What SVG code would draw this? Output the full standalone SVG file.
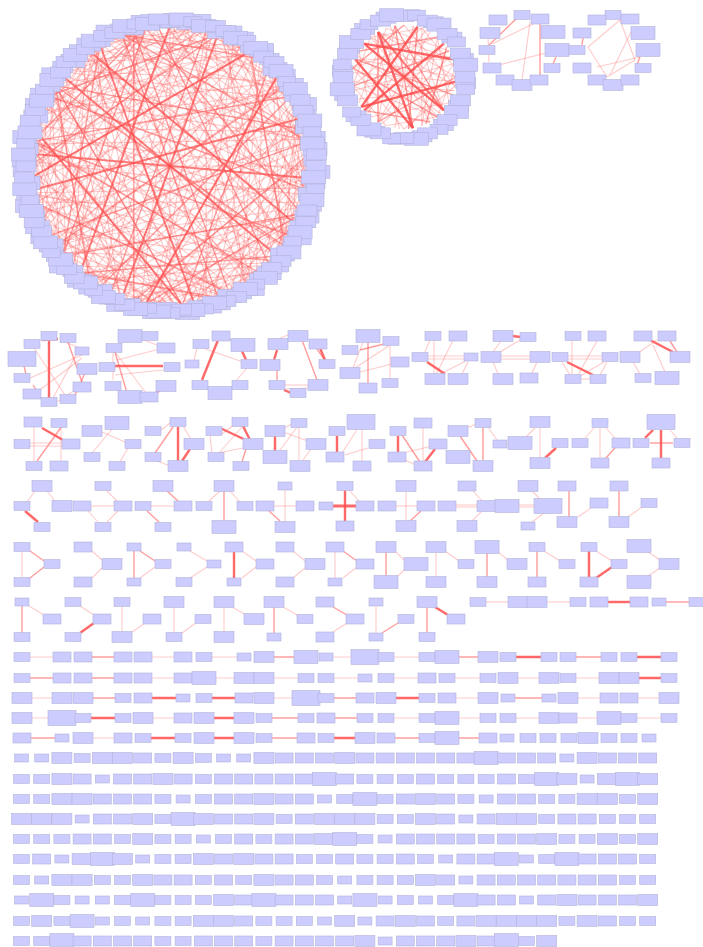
<svg xmlns="http://www.w3.org/2000/svg" xmlns:xlink="http://www.w3.org/1999/xlink" width="703" height="947" viewBox="0 0 703 947">
<style>
.n{fill:#ccccff;stroke:#b3b3d9;stroke-width:.6}
.e1{stroke:#ff5c5c;stroke-opacity:.32;stroke-width:1.1;fill:none}
.e2{stroke:#ff5c5c;stroke-opacity:.6;stroke-width:1.4;fill:none}
.e3{stroke:#ff4d4d;stroke-opacity:.85;stroke-width:2.4;fill:none}
.e4{stroke:#ff4d4d;stroke-opacity:.72;stroke-width:2;fill:none}
</style>
<defs>
<rect id="s" class="n" x="-7" y="-4" width="14" height="8"/>
<rect id="m" class="n" x="-8" y="-4.5" width="16" height="9"/>
<rect id="p" class="n" x="-9" y="-5" width="18" height="10"/>
<rect id="l" class="n" x="-10" y="-5.5" width="20" height="11"/>
<rect id="x" class="n" x="-12" y="-6.5" width="24" height="13"/>
<rect id="w" class="n" x="-14" y="-7.5" width="28" height="15"/>
<line id="a15" x1="135.2" y1="-36.2" x2="135.2" y2="36.2"/>
<line id="a20" x1="131.6" y1="-47.9" x2="131.6" y2="47.9"/>
<line id="a25" x1="126.9" y1="-59.2" x2="126.9" y2="59.2"/>
<line id="a30" x1="121.2" y1="-70" x2="121.2" y2="70"/>
<line id="a35" x1="114.7" y1="-80.3" x2="114.7" y2="80.3"/>
<line id="a40" x1="107.2" y1="-90" x2="107.2" y2="90"/>
<line id="a45" x1="99" y1="-99" x2="99" y2="99"/>
<line id="a50" x1="90" y1="-107.2" x2="90" y2="107.2"/>
<line id="a55" x1="80.3" y1="-114.7" x2="80.3" y2="114.7"/>
<line id="a60" x1="70" y1="-121.2" x2="70" y2="121.2"/>
<line id="a65" x1="59.2" y1="-126.9" x2="59.2" y2="126.9"/>
<line id="a70" x1="47.9" y1="-131.6" x2="47.9" y2="131.6"/>
<line id="a75" x1="36.2" y1="-135.2" x2="36.2" y2="135.2"/>
<line id="a80" x1="24.3" y1="-137.9" x2="24.3" y2="137.9"/>
<line id="a85" x1="12.2" y1="-139.5" x2="12.2" y2="139.5"/>
<line id="a90" x1="0" y1="-140" x2="0" y2="140"/>
<line id="b30" x1="45" y1="-26" x2="45" y2="26"/>
<line id="b40" x1="39.8" y1="-33.4" x2="39.8" y2="33.4"/>
<line id="b50" x1="33.4" y1="-39.8" x2="33.4" y2="39.8"/>
<line id="b60" x1="26" y1="-45" x2="26" y2="45"/>
<line id="b70" x1="17.8" y1="-48.9" x2="17.8" y2="48.9"/>
<line id="b80" x1="9" y1="-51.2" x2="9" y2="51.2"/>
<line id="b90" x1="0" y1="-52" x2="0" y2="52"/>
</defs>
<rect width="703" height="947" fill="#ffffff"/>
<g id="connectors">
<g transform="translate(170 166)">
<use href="#a15" class="e1" transform="rotate(10)"/><use href="#a15" class="e1" transform="rotate(55)"/><use href="#a15" class="e1" transform="rotate(100)"/><use href="#a15" class="e1" transform="rotate(150)"/><use href="#a15" class="e1" transform="rotate(200)"/><use href="#a15" class="e1" transform="rotate(245)"/><use href="#a15" class="e1" transform="rotate(290)"/><use href="#a15" class="e1" transform="rotate(335)"/>
<use href="#a20" class="e1" transform="rotate(25)"/><use href="#a20" class="e1" transform="rotate(70)"/><use href="#a20" class="e1" transform="rotate(118)"/><use href="#a20" class="e1" transform="rotate(170)"/><use href="#a20" class="e1" transform="rotate(215)"/><use href="#a20" class="e1" transform="rotate(260)"/><use href="#a20" class="e1" transform="rotate(305)"/><use href="#a20" class="e1" transform="rotate(350)"/>
<use href="#a25" class="e1" transform="rotate(5)"/><use href="#a25" class="e1" transform="rotate(48)"/><use href="#a25" class="e1" transform="rotate(95)"/><use href="#a25" class="e1" transform="rotate(140)"/><use href="#a25" class="e1" transform="rotate(185)"/><use href="#a25" class="e1" transform="rotate(232)"/><use href="#a25" class="e1" transform="rotate(278)"/><use href="#a25" class="e1" transform="rotate(322)"/>
<use href="#a30" class="e1" transform="rotate(33)"/><use href="#a30" class="e1" transform="rotate(78)"/><use href="#a30" class="e1" transform="rotate(125)"/><use href="#a30" class="e1" transform="rotate(160)"/><use href="#a30" class="e1" transform="rotate(208)"/><use href="#a30" class="e1" transform="rotate(252)"/><use href="#a30" class="e1" transform="rotate(298)"/><use href="#a30" class="e1" transform="rotate(343)"/>
<use href="#a35" class="e1" transform="rotate(15)"/><use href="#a35" class="e1" transform="rotate(62)"/><use href="#a35" class="e1" transform="rotate(108)"/><use href="#a35" class="e1" transform="rotate(155)"/><use href="#a35" class="e1" transform="rotate(198)"/><use href="#a35" class="e1" transform="rotate(240)"/><use href="#a35" class="e1" transform="rotate(285)"/><use href="#a35" class="e1" transform="rotate(330)"/>
<use href="#a40" class="e1" transform="rotate(40)"/><use href="#a40" class="e1" transform="rotate(85)"/><use href="#a40" class="e1" transform="rotate(130)"/><use href="#a40" class="e1" transform="rotate(178)"/><use href="#a40" class="e1" transform="rotate(222)"/><use href="#a40" class="e1" transform="rotate(268)"/><use href="#a40" class="e1" transform="rotate(312)"/><use href="#a40" class="e1" transform="rotate(357)"/>
<use href="#a45" class="e1" transform="rotate(20)"/><use href="#a45" class="e1" transform="rotate(66)"/><use href="#a45" class="e1" transform="rotate(112)"/><use href="#a45" class="e1" transform="rotate(146)"/><use href="#a45" class="e1" transform="rotate(192)"/><use href="#a45" class="e1" transform="rotate(238)"/><use href="#a45" class="e1" transform="rotate(282)"/><use href="#a45" class="e1" transform="rotate(326)"/>
<use href="#a50" class="e1" transform="rotate(2)"/><use href="#a50" class="e1" transform="rotate(46)"/><use href="#a50" class="e1" transform="rotate(92)"/><use href="#a50" class="e1" transform="rotate(137)"/><use href="#a50" class="e1" transform="rotate(183)"/><use href="#a50" class="e1" transform="rotate(228)"/><use href="#a50" class="e1" transform="rotate(273)"/><use href="#a50" class="e1" transform="rotate(318)"/>
<use href="#a55" class="e1" transform="rotate(28)"/><use href="#a55" class="e1" transform="rotate(74)"/><use href="#a55" class="e1" transform="rotate(121)"/><use href="#a55" class="e1" transform="rotate(166)"/><use href="#a55" class="e1" transform="rotate(210)"/><use href="#a55" class="e1" transform="rotate(256)"/><use href="#a55" class="e1" transform="rotate(300)"/><use href="#a55" class="e1" transform="rotate(347)"/>
<use href="#a60" class="e1" transform="rotate(12)"/><use href="#a60" class="e1" transform="rotate(58)"/><use href="#a60" class="e1" transform="rotate(103)"/><use href="#a60" class="e1" transform="rotate(148)"/><use href="#a60" class="e1" transform="rotate(194)"/><use href="#a60" class="e1" transform="rotate(244)"/><use href="#a60" class="e1" transform="rotate(286)"/><use href="#a60" class="e1" transform="rotate(331)"/>
<use href="#a65" class="e1" transform="rotate(37)"/><use href="#a65" class="e1" transform="rotate(82)"/><use href="#a65" class="e1" transform="rotate(127)"/><use href="#a65" class="e1" transform="rotate(173)"/><use href="#a65" class="e1" transform="rotate(218)"/><use href="#a65" class="e1" transform="rotate(263)"/><use href="#a65" class="e1" transform="rotate(308)"/><use href="#a65" class="e1" transform="rotate(353)"/>
<use href="#a70" class="e1" transform="rotate(7)"/><use href="#a70" class="e1" transform="rotate(52)"/><use href="#a70" class="e1" transform="rotate(98)"/><use href="#a70" class="e1" transform="rotate(143)"/><use href="#a70" class="e1" transform="rotate(188)"/><use href="#a70" class="e1" transform="rotate(234)"/><use href="#a70" class="e1" transform="rotate(279)"/><use href="#a70" class="e1" transform="rotate(324)"/>
<use href="#a75" class="e1" transform="rotate(22)"/><use href="#a75" class="e1" transform="rotate(67)"/><use href="#a75" class="e1" transform="rotate(113)"/><use href="#a75" class="e1" transform="rotate(158)"/><use href="#a75" class="e1" transform="rotate(203)"/><use href="#a75" class="e1" transform="rotate(249)"/><use href="#a75" class="e1" transform="rotate(294)"/><use href="#a75" class="e1" transform="rotate(339)"/>
<use href="#a80" class="e1" transform="rotate(44)"/><use href="#a80" class="e1" transform="rotate(89)"/><use href="#a80" class="e1" transform="rotate(134)"/><use href="#a80" class="e1" transform="rotate(224)"/><use href="#a80" class="e1" transform="rotate(269)"/><use href="#a80" class="e1" transform="rotate(314)"/>
<use href="#a85" class="e1" transform="rotate(30)"/><use href="#a85" class="e1" transform="rotate(75)"/><use href="#a85" class="e1" transform="rotate(120)"/><use href="#a85" class="e1" transform="rotate(165)"/>
<use href="#a90" class="e1" transform="rotate(0)"/><use href="#a90" class="e1" transform="rotate(36)"/><use href="#a90" class="e1" transform="rotate(72)"/><use href="#a90" class="e1" transform="rotate(108)"/><use href="#a90" class="e1" transform="rotate(144)"/>
<use href="#a25" class="e1" transform="rotate(27)"/><use href="#a25" class="e1" transform="rotate(72)"/><use href="#a25" class="e1" transform="rotate(117)"/><use href="#a25" class="e1" transform="rotate(163)"/><use href="#a25" class="e1" transform="rotate(208)"/><use href="#a25" class="e1" transform="rotate(255)"/><use href="#a25" class="e1" transform="rotate(300)"/><use href="#a25" class="e1" transform="rotate(345)"/>
<use href="#a30" class="e1" transform="rotate(10)"/><use href="#a30" class="e1" transform="rotate(55)"/><use href="#a30" class="e1" transform="rotate(102)"/><use href="#a30" class="e1" transform="rotate(183)"/><use href="#a30" class="e1" transform="rotate(230)"/><use href="#a30" class="e1" transform="rotate(275)"/><use href="#a30" class="e1" transform="rotate(320)"/><use href="#a30" class="e1" transform="rotate(5)"/>
<use href="#a35" class="e1" transform="rotate(38)"/><use href="#a35" class="e1" transform="rotate(85)"/><use href="#a35" class="e1" transform="rotate(131)"/><use href="#a35" class="e1" transform="rotate(177)"/><use href="#a35" class="e1" transform="rotate(221)"/><use href="#a35" class="e1" transform="rotate(263)"/><use href="#a35" class="e1" transform="rotate(308)"/><use href="#a35" class="e1" transform="rotate(353)"/>
<use href="#a40" class="e1" transform="rotate(18)"/><use href="#a40" class="e1" transform="rotate(63)"/><use href="#a40" class="e1" transform="rotate(108)"/><use href="#a40" class="e1" transform="rotate(155)"/><use href="#a40" class="e1" transform="rotate(200)"/><use href="#a40" class="e1" transform="rotate(245)"/><use href="#a40" class="e1" transform="rotate(290)"/><use href="#a40" class="e1" transform="rotate(335)"/>
<use href="#a45" class="e1" transform="rotate(43)"/><use href="#a45" class="e1" transform="rotate(89)"/><use href="#a45" class="e1" transform="rotate(135)"/><use href="#a45" class="e1" transform="rotate(169)"/><use href="#a45" class="e1" transform="rotate(215)"/><use href="#a45" class="e1" transform="rotate(261)"/><use href="#a45" class="e1" transform="rotate(305)"/><use href="#a45" class="e1" transform="rotate(349)"/>
<use href="#a50" class="e1" transform="rotate(25)"/><use href="#a50" class="e1" transform="rotate(69)"/><use href="#a50" class="e1" transform="rotate(114)"/><use href="#a50" class="e1" transform="rotate(160)"/><use href="#a50" class="e1" transform="rotate(206)"/><use href="#a50" class="e1" transform="rotate(251)"/><use href="#a50" class="e1" transform="rotate(296)"/><use href="#a50" class="e1" transform="rotate(341)"/>
<use href="#a55" class="e1" transform="rotate(5)"/><use href="#a55" class="e1" transform="rotate(51)"/><use href="#a55" class="e1" transform="rotate(98)"/><use href="#a55" class="e1" transform="rotate(143)"/><use href="#a55" class="e1" transform="rotate(187)"/><use href="#a55" class="e1" transform="rotate(233)"/><use href="#a55" class="e1" transform="rotate(277)"/><use href="#a55" class="e1" transform="rotate(324)"/>
<use href="#a60" class="e1" transform="rotate(35)"/><use href="#a60" class="e1" transform="rotate(81)"/><use href="#a60" class="e1" transform="rotate(126)"/><use href="#a60" class="e1" transform="rotate(171)"/><use href="#a60" class="e1" transform="rotate(217)"/><use href="#a60" class="e1" transform="rotate(263)"/><use href="#a60" class="e1" transform="rotate(309)"/><use href="#a60" class="e1" transform="rotate(354)"/>
<use href="#a65" class="e1" transform="rotate(14)"/><use href="#a65" class="e1" transform="rotate(59)"/><use href="#a65" class="e1" transform="rotate(104)"/><use href="#a65" class="e1" transform="rotate(150)"/><use href="#a65" class="e1" transform="rotate(195)"/><use href="#a65" class="e1" transform="rotate(240)"/><use href="#a65" class="e1" transform="rotate(285)"/><use href="#a65" class="e1" transform="rotate(330)"/>
<use href="#a70" class="e1" transform="rotate(30)"/><use href="#a70" class="e1" transform="rotate(75)"/><use href="#a70" class="e1" transform="rotate(121)"/><use href="#a70" class="e1" transform="rotate(166)"/><use href="#a70" class="e1" transform="rotate(211)"/><use href="#a70" class="e1" transform="rotate(257)"/><use href="#a70" class="e1" transform="rotate(302)"/><use href="#a70" class="e1" transform="rotate(347)"/>
<use href="#a75" class="e1" transform="rotate(0)"/><use href="#a75" class="e1" transform="rotate(90)"/><use href="#a75" class="e1" transform="rotate(135)"/><use href="#a75" class="e1" transform="rotate(226)"/><use href="#a75" class="e1" transform="rotate(271)"/><use href="#a75" class="e1" transform="rotate(316)"/>
<use href="#a80" class="e1" transform="rotate(20)"/><use href="#a80" class="e1" transform="rotate(65)"/><use href="#a80" class="e1" transform="rotate(157)"/><use href="#a80" class="e1" transform="rotate(200)"/><use href="#a80" class="e1" transform="rotate(245)"/><use href="#a80" class="e1" transform="rotate(337)"/>
<use href="#a85" class="e1" transform="rotate(52)"/><use href="#a85" class="e1" transform="rotate(97)"/><use href="#a85" class="e1" transform="rotate(142)"/><use href="#a85" class="e1" transform="rotate(187)"/><use href="#a85" class="e1" transform="rotate(232)"/><use href="#a85" class="e1" transform="rotate(277)"/><use href="#a85" class="e1" transform="rotate(322)"/><use href="#a85" class="e1" transform="rotate(10)"/>
<use href="#a90" class="e1" transform="rotate(18)"/><use href="#a90" class="e1" transform="rotate(54)"/><use href="#a90" class="e1" transform="rotate(90)"/><use href="#a90" class="e1" transform="rotate(126)"/><use href="#a90" class="e1" transform="rotate(162)"/>
<use href="#a30" class="e2" transform="rotate(100)"/><use href="#a30" class="e2" transform="rotate(280)"/><use href="#a40" class="e2" transform="rotate(60)"/><use href="#a40" class="e2" transform="rotate(250)"/><use href="#a45" class="e2" transform="rotate(170)"/><use href="#a45" class="e2" transform="rotate(350)"/><use href="#a50" class="e2" transform="rotate(115)"/><use href="#a50" class="e2" transform="rotate(300)"/><use href="#a55" class="e2" transform="rotate(50)"/><use href="#a55" class="e2" transform="rotate(235)"/><use href="#a60" class="e2" transform="rotate(80)"/><use href="#a60" class="e2" transform="rotate(200)"/><use href="#a60" class="e2" transform="rotate(320)"/><use href="#a65" class="e2" transform="rotate(150)"/><use href="#a65" class="e2" transform="rotate(20)"/><use href="#a70" class="e2" transform="rotate(120)"/><use href="#a70" class="e2" transform="rotate(260)"/><use href="#a75" class="e2" transform="rotate(180)"/><use href="#a75" class="e2" transform="rotate(45)"/><use href="#a80" class="e2" transform="rotate(110)"/><use href="#a80" class="e2" transform="rotate(290)"/><use href="#a85" class="e2" transform="rotate(200)"/><use href="#a85" class="e2" transform="rotate(340)"/><use href="#a90" class="e2" transform="rotate(55)"/><use href="#a90" class="e2" transform="rotate(125)"/><use href="#a90" class="e2" transform="rotate(160)"/><use href="#a35" class="e2" transform="rotate(225)"/><use href="#a45" class="e2" transform="rotate(85)"/><use href="#a50" class="e2" transform="rotate(190)"/><use href="#a65" class="e2" transform="rotate(280)"/><use href="#a70" class="e2" transform="rotate(335)"/><use href="#a80" class="e2" transform="rotate(70)"/>
<use href="#a55" class="e4" transform="rotate(140)"/><use href="#a65" class="e4" transform="rotate(240)"/><use href="#a70" class="e4" transform="rotate(30)"/><use href="#a70" class="e4" transform="rotate(200)"/><use href="#a75" class="e4" transform="rotate(310)"/><use href="#a80" class="e4" transform="rotate(160)"/><use href="#a85" class="e4" transform="rotate(255)"/><use href="#a90" class="e4" transform="rotate(20)"/><use href="#a90" class="e4" transform="rotate(95)"/><use href="#a90" class="e4" transform="rotate(130)"/>
</g>
<g transform="translate(404 77)">
<use href="#b30" class="e1" transform="rotate(20)"/><use href="#b30" class="e1" transform="rotate(140)"/><use href="#b30" class="e1" transform="rotate(260)"/><use href="#b40" class="e1" transform="rotate(50)"/><use href="#b40" class="e1" transform="rotate(170)"/><use href="#b40" class="e1" transform="rotate(290)"/><use href="#b40" class="e1" transform="rotate(350)"/><use href="#b50" class="e1" transform="rotate(80)"/><use href="#b50" class="e1" transform="rotate(200)"/><use href="#b50" class="e1" transform="rotate(320)"/><use href="#b60" class="e1" transform="rotate(10)"/><use href="#b60" class="e1" transform="rotate(110)"/><use href="#b60" class="e1" transform="rotate(230)"/><use href="#b60" class="e1" transform="rotate(300)"/><use href="#b70" class="e1" transform="rotate(45)"/><use href="#b70" class="e1" transform="rotate(165)"/><use href="#b70" class="e1" transform="rotate(270)"/><use href="#b80" class="e1" transform="rotate(95)"/><use href="#b80" class="e1" transform="rotate(215)"/><use href="#b80" class="e1" transform="rotate(335)"/><use href="#b90" class="e1" transform="rotate(30)"/><use href="#b90" class="e1" transform="rotate(75)"/><use href="#b90" class="e1" transform="rotate(150)"/>
<use href="#b30" class="e1" transform="rotate(80)"/><use href="#b30" class="e1" transform="rotate(200)"/><use href="#b30" class="e1" transform="rotate(320)"/><use href="#b50" class="e1" transform="rotate(140)"/><use href="#b50" class="e1" transform="rotate(35)"/><use href="#b50" class="e1" transform="rotate(290)"/><use href="#b60" class="e1" transform="rotate(200)"/><use href="#b60" class="e1" transform="rotate(250)"/><use href="#b60" class="e1" transform="rotate(340)"/><use href="#b70" class="e1" transform="rotate(0)"/><use href="#b70" class="e1" transform="rotate(85)"/><use href="#b70" class="e1" transform="rotate(190)"/><use href="#b70" class="e1" transform="rotate(300)"/><use href="#b80" class="e1" transform="rotate(40)"/><use href="#b80" class="e1" transform="rotate(125)"/><use href="#b80" class="e1" transform="rotate(280)"/><use href="#b90" class="e1" transform="rotate(10)"/><use href="#b90" class="e1" transform="rotate(95)"/><use href="#b90" class="e1" transform="rotate(140)"/>
<use href="#b40" class="e2" transform="rotate(100)"/><use href="#b40" class="e2" transform="rotate(230)"/><use href="#b50" class="e2" transform="rotate(15)"/><use href="#b50" class="e2" transform="rotate(260)"/><use href="#b60" class="e2" transform="rotate(60)"/><use href="#b60" class="e2" transform="rotate(180)"/><use href="#b70" class="e2" transform="rotate(120)"/><use href="#b70" class="e2" transform="rotate(330)"/><use href="#b80" class="e2" transform="rotate(5)"/><use href="#b80" class="e2" transform="rotate(250)"/><use href="#b90" class="e2" transform="rotate(110)"/><use href="#b90" class="e2" transform="rotate(170)"/>
<use href="#b60" class="e3" transform="rotate(140)"/><use href="#b60" class="e3" transform="rotate(280)"/><use href="#b70" class="e3" transform="rotate(215)"/><use href="#b80" class="e3" transform="rotate(160)"/><use href="#b90" class="e3" transform="rotate(50)"/><use href="#b90" class="e3" transform="rotate(130)"/><use href="#b70" class="e3" transform="rotate(75)"/><use href="#b80" class="e4" transform="rotate(320)"/>
</g>
<line class="e2" x1="489" y1="45" x2="518" y2="17"/><line class="e1" x1="492" y1="44" x2="537" y2="22"/><line class="e2" x1="540" y1="24" x2="540" y2="76"/><line class="e1" x1="530" y1="22" x2="522" y2="80"/><line class="e1" x1="495" y1="66" x2="550" y2="52"/><line class="e1" x1="488" y1="38" x2="489" y2="62"/><line class="e2" x1="556" y1="57" x2="553" y2="64"/>
<line class="e1" x1="588" y1="47" x2="620" y2="20"/><line class="e1" x1="620" y1="20" x2="635" y2="60"/><line class="e1" x1="635" y1="60" x2="607" y2="77"/><line class="e1" x1="588" y1="47" x2="607" y2="77"/><line class="e1" x1="610" y1="75" x2="632" y2="30"/><line class="e2" x1="583" y1="38" x2="582" y2="45"/><line class="e2" x1="640" y1="57" x2="637" y2="65"/><line class="e1" x1="597" y1="67" x2="640" y2="57"/>
<line class="e3" x1="49" y1="340" x2="49" y2="398"/><line class="e3" x1="42" y1="340" x2="58" y2="339"/><line class="e1" x1="82" y1="355" x2="30" y2="378"/><line class="e1" x1="77" y1="353" x2="53" y2="398"/><line class="e2" x1="68" y1="342" x2="83" y2="385"/><line class="e1" x1="33" y1="395" x2="82" y2="358"/><line class="e2" x1="24" y1="366" x2="26" y2="374"/><line class="e1" x1="32" y1="345" x2="67" y2="398"/><line class="e2" x1="33" y1="385" x2="38" y2="393"/><line class="e1" x1="55" y1="403" x2="75" y2="390"/><line class="e2" x1="85" y1="373" x2="75" y2="395"/><line class="e1" x1="60" y1="340" x2="85" y2="350"/>
<line class="e3" x1="115" y1="366" x2="163" y2="366"/><line class="e2" x1="115" y1="352" x2="127" y2="393"/><line class="e1" x1="115" y1="352" x2="146" y2="393"/><line class="e1" x1="117" y1="360" x2="160" y2="349"/><line class="e1" x1="138" y1="338" x2="157" y2="345"/><line class="e3" x1="155" y1="394" x2="161" y2="389"/><line class="e1" x1="115" y1="375" x2="163" y2="370"/><line class="e1" x1="113" y1="352" x2="113" y2="380"/>
<line class="e3" x1="218" y1="340" x2="202" y2="380"/><line class="e1" x1="197" y1="348" x2="194" y2="360"/><line class="e3" x1="242" y1="351" x2="246" y2="360"/><line class="e1" x1="247" y1="368" x2="235" y2="382"/><line class="e1" x1="227" y1="338" x2="240" y2="345"/><line class="e1" x1="203" y1="348" x2="243" y2="362"/>
<line class="e3" x1="277" y1="350" x2="274" y2="360"/><line class="e1" x1="276" y1="340" x2="290" y2="334"/><line class="e2" x1="277" y1="370" x2="277" y2="380"/><line class="e2" x1="302" y1="340" x2="317" y2="380"/><line class="e3" x1="320" y1="348" x2="325" y2="360"/><line class="e2" x1="317" y1="349" x2="324" y2="359"/><line class="e1" x1="285" y1="385" x2="310" y2="385"/><line class="e1" x1="285" y1="389" x2="310" y2="388"/><line class="e3" x1="284" y1="390" x2="291" y2="393"/>
<line class="e2" x1="368" y1="342" x2="368" y2="383"/><line class="e2" x1="360" y1="350" x2="388" y2="343"/><line class="e1" x1="353" y1="368" x2="363" y2="342"/><line class="e1" x1="355" y1="368" x2="390" y2="345"/><line class="e1" x1="360" y1="372" x2="392" y2="364"/><line class="e1" x1="390" y1="346" x2="390" y2="378"/>
<line class="e1" x1="434" y1="340" x2="434" y2="375"/><line class="e3" x1="427" y1="362" x2="445" y2="374"/><line class="e1" x1="428" y1="356" x2="465" y2="356"/><line class="e1" x1="428" y1="359" x2="465" y2="359"/><line class="e1" x1="453" y1="340" x2="436" y2="375"/><line class="e1" x1="468" y1="362" x2="462" y2="374"/><line class="e1" x1="425" y1="352" x2="430" y2="340"/><line class="e1" x1="440" y1="374" x2="466" y2="361"/>
<line class="e3" x1="513" y1="336" x2="520" y2="337"/><line class="e1" x1="493" y1="352" x2="501" y2="341"/><line class="e1" x1="500" y1="352" x2="520" y2="340"/><line class="e1" x1="501" y1="356" x2="530" y2="356"/><line class="e1" x1="501" y1="359" x2="530" y2="359"/><line class="e1" x1="493" y1="362" x2="498" y2="374"/><line class="e1" x1="537" y1="362" x2="532" y2="373"/>
<line class="e1" x1="572" y1="340" x2="572" y2="375"/><line class="e1" x1="568" y1="356" x2="602" y2="356"/><line class="e1" x1="568" y1="359" x2="602" y2="359"/><line class="e1" x1="597" y1="341" x2="578" y2="375"/><line class="e3" x1="567" y1="362" x2="593" y2="375"/><line class="e1" x1="562" y1="362" x2="570" y2="375"/><line class="e1" x1="607" y1="362" x2="600" y2="375"/><line class="e1" x1="580" y1="379" x2="591" y2="379"/><line class="e1" x1="604" y1="362" x2="580" y2="376"/>
<line class="e3" x1="650" y1="340" x2="673" y2="352"/><line class="e1" x1="638" y1="353" x2="657" y2="340"/><line class="e2" x1="670" y1="341" x2="677" y2="352"/><line class="e1" x1="633" y1="362" x2="640" y2="374"/><line class="e1" x1="653" y1="345" x2="665" y2="372"/>
<line class="e1" x1="34" y1="427" x2="34" y2="461"/><line class="e1" x1="61" y1="427" x2="61" y2="461"/><line class="e1" x1="28" y1="443" x2="62" y2="443"/><line class="e1" x1="28" y1="446" x2="62" y2="446"/><line class="e3" x1="42" y1="428" x2="63" y2="440"/><line class="e2" x1="62" y1="426" x2="37" y2="461"/>
<line class="e1" x1="113" y1="428" x2="92" y2="453"/><line class="e1" x1="102" y1="432" x2="125" y2="442"/><line class="e1" x1="128" y1="448" x2="120" y2="462"/>
<line class="e3" x1="178" y1="427" x2="178" y2="461"/><line class="e2" x1="173" y1="427" x2="155" y2="453"/><line class="e1" x1="161" y1="430" x2="170" y2="423"/><line class="e1" x1="183" y1="426" x2="191" y2="439"/><line class="e3" x1="190" y1="449" x2="182" y2="461"/><line class="e1" x1="157" y1="461" x2="170" y2="466"/>
<line class="e3" x1="220" y1="428" x2="248" y2="441"/><line class="e3" x1="243" y1="426" x2="250" y2="440"/><line class="e1" x1="218" y1="453" x2="248" y2="447"/><line class="e1" x1="219" y1="453" x2="242" y2="427"/><line class="e2" x1="246" y1="449" x2="242" y2="462"/><line class="e1" x1="222" y1="434" x2="240" y2="420"/><line class="e1" x1="210" y1="435" x2="212" y2="453"/>
<line class="e3" x1="275" y1="436" x2="275" y2="452"/><line class="e1" x1="278" y1="453" x2="297" y2="427"/><line class="e1" x1="285" y1="428" x2="295" y2="422"/><line class="e1" x1="299" y1="427" x2="299" y2="460"/><line class="e1" x1="311" y1="449" x2="303" y2="460"/><line class="e1" x1="283" y1="432" x2="308" y2="441"/>
<line class="e3" x1="337" y1="436" x2="337" y2="453"/><line class="e1" x1="342" y1="453" x2="358" y2="428"/><line class="e1" x1="345" y1="455" x2="368" y2="448"/><line class="e1" x1="362" y1="429" x2="362" y2="462"/>
<line class="e3" x1="398" y1="436" x2="398" y2="452"/><line class="e2" x1="402" y1="435" x2="420" y2="462"/><line class="e3" x1="425" y1="462" x2="435" y2="449"/><line class="e1" x1="423" y1="427" x2="423" y2="461"/><line class="e1" x1="403" y1="453" x2="432" y2="446"/><line class="e1" x1="405" y1="460" x2="416" y2="465"/>
<line class="e2" x1="460" y1="436" x2="477" y2="461"/><line class="e2" x1="483" y1="427" x2="483" y2="460"/><line class="e1" x1="488" y1="427" x2="497" y2="440"/><line class="e1" x1="465" y1="429" x2="476" y2="424"/>
<line class="e1" x1="535" y1="428" x2="525" y2="438"/><line class="e1" x1="540" y1="428" x2="540" y2="458"/><line class="e3" x1="556" y1="448" x2="545" y2="458"/>
<line class="e1" x1="595" y1="427" x2="585" y2="438"/><line class="e1" x1="600" y1="428" x2="600" y2="459"/><line class="e1" x1="605" y1="427" x2="615" y2="438"/><line class="e2" x1="615" y1="448" x2="605" y2="459"/>
<line class="e3" x1="653" y1="430" x2="645" y2="438"/><line class="e3" x1="661" y1="430" x2="661" y2="459"/><line class="e2" x1="650" y1="443" x2="673" y2="443"/><line class="e1" x1="670" y1="430" x2="677" y2="438"/>
<line class="e1" x1="27" y1="502" x2="35" y2="491"/><line class="e1" x1="47" y1="491" x2="55" y2="501"/><line class="e3" x1="25" y1="511" x2="38" y2="522"/>
<line class="e1" x1="107" y1="491" x2="117" y2="501"/><line class="e1" x1="91" y1="506" x2="114" y2="506"/><line class="e1" x1="88" y1="511" x2="98" y2="522"/><line class="e1" x1="118" y1="511" x2="107" y2="522"/>
<line class="e2" x1="167" y1="491" x2="178" y2="501"/><line class="e1" x1="151" y1="506" x2="174" y2="506"/><line class="e2" x1="147" y1="511" x2="159" y2="522"/>
<line class="e1" x1="220" y1="491" x2="209" y2="501"/><line class="e2" x1="224" y1="491" x2="224" y2="520"/><line class="e1" x1="230" y1="491" x2="240" y2="502"/>
<line class="e1" x1="285" y1="490" x2="285" y2="522"/><line class="e1" x1="274" y1="506" x2="296" y2="506"/><line class="e2" x1="269" y1="511" x2="280" y2="521"/>
<line class="e3" x1="333" y1="506" x2="356" y2="506" style="stroke-width:3"/><line class="e3" x1="345" y1="490" x2="345" y2="521"/><line class="e1" x1="349" y1="490" x2="359" y2="501"/>
<line class="e1" x1="406" y1="491" x2="406" y2="521"/><line class="e1" x1="396" y1="506" x2="417" y2="506"/><line class="e2" x1="421" y1="511" x2="410" y2="521"/>
<line class="e1" x1="473" y1="491" x2="482" y2="501"/><line class="e1" x1="456" y1="505" x2="477" y2="505"/><line class="e1" x1="456" y1="507" x2="477" y2="507"/><line class="e1" x1="482" y1="511" x2="472" y2="521"/>
<line class="e1" x1="532" y1="491" x2="540" y2="499"/><line class="e1" x1="519" y1="505" x2="534" y2="505"/><line class="e1" x1="519" y1="507" x2="534" y2="507"/><line class="e1" x1="544" y1="513" x2="532" y2="522"/>
<line class="e2" x1="569" y1="490" x2="569" y2="517"/><line class="e1" x1="578" y1="517" x2="591" y2="508"/>
<line class="e2" x1="619" y1="490" x2="619" y2="517"/><line class="e1" x1="628" y1="517" x2="642" y2="507"/>
<line class="e1" x1="22" y1="551" x2="22" y2="577"/><line class="e2" x1="30" y1="551" x2="44" y2="561"/><line class="e2" x1="30" y1="578" x2="44" y2="567"/>
<line class="e1" x1="92" y1="551" x2="102" y2="560"/><line class="e1" x1="92" y1="578" x2="102" y2="568"/>
<line class="e2" x1="134" y1="551" x2="134" y2="578"/><line class="e2" x1="140" y1="551" x2="155" y2="561"/><line class="e1" x1="140" y1="578" x2="155" y2="567"/>
<line class="e1" x1="190" y1="551" x2="207" y2="561"/><line class="e1" x1="190" y1="578" x2="207" y2="567"/>
<line class="e3" x1="234" y1="551" x2="234" y2="578"/><line class="e1" x1="242" y1="551" x2="256" y2="561"/><line class="e1" x1="242" y1="578" x2="256" y2="567"/>
<line class="e1" x1="293" y1="551" x2="305" y2="561"/><line class="e1" x1="293" y1="578" x2="305" y2="568"/>
<line class="e1" x1="335" y1="551" x2="335" y2="578"/><line class="e2" x1="343" y1="551" x2="357" y2="561"/><line class="e1" x1="343" y1="578" x2="357" y2="567"/>
<line class="e2" x1="386" y1="552" x2="386" y2="576"/><line class="e1" x1="395" y1="551" x2="405" y2="561"/><line class="e1" x1="397" y1="577" x2="405" y2="569"/>
<line class="e1" x1="436" y1="552" x2="436" y2="577"/><line class="e1" x1="445" y1="551" x2="459" y2="561"/>
<line class="e2" x1="487" y1="553" x2="487" y2="577"/><line class="e1" x1="498" y1="552" x2="508" y2="560"/>
<line class="e2" x1="537" y1="551" x2="537" y2="577"/><line class="e1" x1="544" y1="551" x2="560" y2="561"/>
<line class="e3" x1="589" y1="551" x2="589" y2="577"/><line class="e1" x1="596" y1="551" x2="612" y2="561"/><line class="e3" x1="596" y1="578" x2="612" y2="567"/>
<line class="e1" x1="648" y1="552" x2="660" y2="560"/><line class="e1" x1="648" y1="576" x2="660" y2="568"/>
<line class="e2" x1="22" y1="606" x2="22" y2="633"/><line class="e1" x1="29" y1="606" x2="44" y2="615"/>
<line class="e1" x1="80" y1="606" x2="94" y2="615"/><line class="e3" x1="80" y1="633" x2="94" y2="623"/>
<line class="e1" x1="122" y1="606" x2="122" y2="632"/><line class="e1" x1="131" y1="633" x2="145" y2="623"/>
<line class="e1" x1="174" y1="607" x2="174" y2="633"/><line class="e1" x1="182" y1="633" x2="196" y2="623"/>
<line class="e1" x1="224" y1="607" x2="224" y2="632"/><line class="e1" x1="232" y1="607" x2="246" y2="615"/>
<line class="e2" x1="274" y1="607" x2="274" y2="633"/><line class="e1" x1="283" y1="607" x2="297" y2="615"/>
<line class="e2" x1="333" y1="607" x2="347" y2="615"/><line class="e1" x1="333" y1="632" x2="347" y2="623"/>
<line class="e1" x1="376" y1="606" x2="376" y2="633"/><line class="e2" x1="382" y1="633" x2="398" y2="623"/>
<line class="e2" x1="427" y1="607" x2="427" y2="633"/><line class="e3" x1="435" y1="607" x2="448" y2="615"/>
<line class="e1" x1="486" y1="602" x2="508" y2="602"/><line class="e1" x1="547" y1="602" x2="570" y2="602"/><line class="e3" x1="608" y1="602" x2="630" y2="602"/><line class="e2" x1="666" y1="602" x2="689" y2="602"/>
<line class="e1" x1="22" y1="657" x2="62" y2="657"/><line class="e2" x1="83" y1="657" x2="123" y2="657"/><line class="e1" x1="143" y1="657" x2="183" y2="657"/><line class="e1" x1="204" y1="657" x2="244" y2="657"/><line class="e2" x1="264" y1="657" x2="306" y2="657"/><line class="e1" x1="326" y1="657" x2="365" y2="657"/><line class="e1" x1="386" y1="657" x2="427" y2="657"/><line class="e2" x1="447" y1="657" x2="488" y2="657"/><line class="e3" x1="508" y1="657" x2="549" y2="657"/><line class="e2" x1="568" y1="657" x2="609" y2="657"/><line class="e3" x1="629" y1="657" x2="669" y2="657"/>
<line class="e2" x1="22" y1="678" x2="62" y2="678"/><line class="e2" x1="83" y1="678" x2="123" y2="678"/><line class="e1" x1="143" y1="678" x2="183" y2="678"/><line class="e1" x1="204" y1="678" x2="244" y2="678"/><line class="e1" x1="264" y1="678" x2="306" y2="678"/><line class="e1" x1="326" y1="678" x2="365" y2="678"/><line class="e1" x1="386" y1="678" x2="427" y2="678"/><line class="e1" x1="447" y1="678" x2="488" y2="678"/><line class="e1" x1="508" y1="678" x2="549" y2="678"/><line class="e1" x1="568" y1="678" x2="609" y2="678"/><line class="e3" x1="629" y1="678" x2="669" y2="678"/>
<line class="e1" x1="22" y1="698" x2="62" y2="698"/><line class="e2" x1="83" y1="698" x2="123" y2="698"/><line class="e3" x1="143" y1="698" x2="183" y2="698"/><line class="e3" x1="204" y1="698" x2="244" y2="698"/><line class="e1" x1="264" y1="698" x2="306" y2="698"/><line class="e2" x1="326" y1="698" x2="365" y2="698"/><line class="e3" x1="386" y1="698" x2="427" y2="698"/><line class="e1" x1="447" y1="698" x2="488" y2="698"/><line class="e2" x1="508" y1="698" x2="549" y2="698"/><line class="e1" x1="568" y1="698" x2="609" y2="698"/><line class="e1" x1="629" y1="698" x2="669" y2="698"/>
<line class="e1" x1="22" y1="718" x2="62" y2="718"/><line class="e3" x1="83" y1="718" x2="123" y2="718"/><line class="e1" x1="143" y1="718" x2="183" y2="718"/><line class="e3" x1="204" y1="718" x2="244" y2="718"/><line class="e2" x1="264" y1="718" x2="306" y2="718"/><line class="e2" x1="326" y1="718" x2="365" y2="718"/><line class="e1" x1="386" y1="718" x2="427" y2="718"/><line class="e1" x1="447" y1="718" x2="488" y2="718"/><line class="e1" x1="508" y1="718" x2="549" y2="718"/><line class="e1" x1="568" y1="718" x2="609" y2="718"/><line class="e1" x1="629" y1="718" x2="669" y2="718"/>
<line class="e2" x1="22" y1="738" x2="62" y2="738"/><line class="e1" x1="83" y1="738" x2="123" y2="738"/><line class="e3" x1="143" y1="738" x2="183" y2="738"/><line class="e3" x1="204" y1="738" x2="244" y2="738"/><line class="e2" x1="264" y1="738" x2="306" y2="738"/><line class="e3" x1="326" y1="738" x2="365" y2="738"/><line class="e2" x1="386" y1="738" x2="427" y2="738"/><line class="e2" x1="447" y1="738" x2="488" y2="738"/>
</g>
<g id="nodes">
<g id="ring1" transform="translate(170 166)">
<g id="A80" transform="rotate(2.25) translate(0 -146) rotate(-2.25)"><use href="#x"/></g>
<g id="A81" transform="rotate(6.75) translate(0 -143) rotate(-6.75)"><use href="#l"/></g>
<g id="A82" transform="rotate(11.25) translate(0 -148) rotate(-11.25)"><use href="#x"/></g>
<g id="A83" transform="rotate(15.75) translate(0 -146) rotate(-15.75)"><use href="#p"/></g>
<g id="A84" transform="rotate(20.25) translate(0 -143) rotate(-20.25)"><use href="#x"/></g>
<g id="A85" transform="rotate(24.75) translate(0 -148) rotate(-24.75)"><use href="#l"/></g>
<g id="A86" transform="rotate(29.25) translate(0 -146) rotate(-29.25)"><use href="#x"/></g>
<g id="A87" transform="rotate(33.75) translate(0 -143) rotate(-33.75)"><use href="#p"/></g>
<g id="A88" transform="rotate(38.25) translate(0 -148) rotate(-38.25)"><use href="#x"/></g>
<g id="A89" transform="rotate(42.75) translate(0 -146) rotate(-42.75)"><use href="#l"/></g>
<g id="A90" transform="rotate(47.25) translate(0 -143) rotate(-47.25)"><use href="#x"/></g>
<g id="A91" transform="rotate(51.75) translate(0 -148) rotate(-51.75)"><use href="#p"/></g>
<g id="A92" transform="rotate(56.25) translate(0 -146) rotate(-56.25)"><use href="#x"/></g>
<g id="A93" transform="rotate(60.75) translate(0 -143) rotate(-60.75)"><use href="#l"/></g>
<g id="A94" transform="rotate(65.25) translate(0 -148) rotate(-65.25)"><use href="#x"/></g>
<g id="A95" transform="rotate(69.75) translate(0 -146) rotate(-69.75)"><use href="#p"/></g>
<g id="A96" transform="rotate(74.25) translate(0 -143) rotate(-74.25)"><use href="#x"/></g>
<g id="A97" transform="rotate(78.75) translate(0 -148) rotate(-78.75)"><use href="#l"/></g>
<g id="A98" transform="rotate(83.25) translate(0 -146) rotate(-83.25)"><use href="#x"/></g>
<g id="A99" transform="rotate(87.75) translate(0 -143) rotate(-87.75)"><use href="#p"/></g>
<g id="A100" transform="rotate(92.25) translate(0 -148) rotate(-92.25)"><use href="#x"/></g>
<g id="A101" transform="rotate(96.75) translate(0 -146) rotate(-96.75)"><use href="#l"/></g>
<g id="A102" transform="rotate(101.25) translate(0 -143) rotate(-101.25)"><use href="#x"/></g>
<g id="A103" transform="rotate(105.75) translate(0 -148) rotate(-105.75)"><use href="#p"/></g>
<g id="A104" transform="rotate(110.25) translate(0 -146) rotate(-110.25)"><use href="#x"/></g>
<g id="A105" transform="rotate(114.75) translate(0 -143) rotate(-114.75)"><use href="#l"/></g>
<g id="A106" transform="rotate(119.25) translate(0 -148) rotate(-119.25)"><use href="#x"/></g>
<g id="A107" transform="rotate(123.75) translate(0 -146) rotate(-123.75)"><use href="#p"/></g>
<g id="A108" transform="rotate(128.25) translate(0 -143) rotate(-128.25)"><use href="#x"/></g>
<g id="A109" transform="rotate(132.75) translate(0 -148) rotate(-132.75)"><use href="#l"/></g>
<g id="A110" transform="rotate(137.25) translate(0 -146) rotate(-137.25)"><use href="#x"/></g>
<g id="A111" transform="rotate(141.75) translate(0 -143) rotate(-141.75)"><use href="#p"/></g>
<g id="A112" transform="rotate(146.25) translate(0 -148) rotate(-146.25)"><use href="#x"/></g>
<g id="A113" transform="rotate(150.75) translate(0 -146) rotate(-150.75)"><use href="#l"/></g>
<g id="A114" transform="rotate(155.25) translate(0 -143) rotate(-155.25)"><use href="#x"/></g>
<g id="A115" transform="rotate(159.75) translate(0 -148) rotate(-159.75)"><use href="#p"/></g>
<g id="A116" transform="rotate(164.25) translate(0 -146) rotate(-164.25)"><use href="#x"/></g>
<g id="A117" transform="rotate(168.75) translate(0 -143) rotate(-168.75)"><use href="#l"/></g>
<g id="A118" transform="rotate(173.25) translate(0 -148) rotate(-173.25)"><use href="#x"/></g>
<g id="A119" transform="rotate(177.75) translate(0 -146) rotate(-177.75)"><use href="#p"/></g>
<g id="A120" transform="rotate(182.25) translate(0 -143) rotate(-182.25)"><use href="#x"/></g>
<g id="A121" transform="rotate(186.75) translate(0 -148) rotate(-186.75)"><use href="#l"/></g>
<g id="A122" transform="rotate(191.25) translate(0 -146) rotate(-191.25)"><use href="#x"/></g>
<g id="A123" transform="rotate(195.75) translate(0 -143) rotate(-195.75)"><use href="#p"/></g>
<g id="A124" transform="rotate(200.25) translate(0 -148) rotate(-200.25)"><use href="#x"/></g>
<g id="A125" transform="rotate(204.75) translate(0 -146) rotate(-204.75)"><use href="#l"/></g>
<g id="A126" transform="rotate(209.25) translate(0 -143) rotate(-209.25)"><use href="#x"/></g>
<g id="A127" transform="rotate(213.75) translate(0 -148) rotate(-213.75)"><use href="#p"/></g>
<g id="A128" transform="rotate(218.25) translate(0 -146) rotate(-218.25)"><use href="#x"/></g>
<g id="A129" transform="rotate(222.75) translate(0 -143) rotate(-222.75)"><use href="#l"/></g>
<g id="A130" transform="rotate(227.25) translate(0 -148) rotate(-227.25)"><use href="#x"/></g>
<g id="A131" transform="rotate(231.75) translate(0 -146) rotate(-231.75)"><use href="#p"/></g>
<g id="A132" transform="rotate(236.25) translate(0 -143) rotate(-236.25)"><use href="#x"/></g>
<g id="A133" transform="rotate(240.75) translate(0 -148) rotate(-240.75)"><use href="#l"/></g>
<g id="A134" transform="rotate(245.25) translate(0 -146) rotate(-245.25)"><use href="#x"/></g>
<g id="A135" transform="rotate(249.75) translate(0 -143) rotate(-249.75)"><use href="#p"/></g>
<g id="A136" transform="rotate(254.25) translate(0 -148) rotate(-254.25)"><use href="#x"/></g>
<g id="A137" transform="rotate(258.75) translate(0 -146) rotate(-258.75)"><use href="#l"/></g>
<g id="A138" transform="rotate(263.25) translate(0 -143) rotate(-263.25)"><use href="#x"/></g>
<g id="A139" transform="rotate(267.75) translate(0 -148) rotate(-267.75)"><use href="#p"/></g>
<g id="A140" transform="rotate(272.25) translate(0 -146) rotate(-272.25)"><use href="#x"/></g>
<g id="A141" transform="rotate(276.75) translate(0 -143) rotate(-276.75)"><use href="#l"/></g>
<g id="A142" transform="rotate(281.25) translate(0 -148) rotate(-281.25)"><use href="#x"/></g>
<g id="A143" transform="rotate(285.75) translate(0 -146) rotate(-285.75)"><use href="#p"/></g>
<g id="A144" transform="rotate(290.25) translate(0 -143) rotate(-290.25)"><use href="#x"/></g>
<g id="A145" transform="rotate(294.75) translate(0 -148) rotate(-294.75)"><use href="#l"/></g>
<g id="A146" transform="rotate(299.25) translate(0 -146) rotate(-299.25)"><use href="#x"/></g>
<g id="A147" transform="rotate(303.75) translate(0 -143) rotate(-303.75)"><use href="#p"/></g>
<g id="A148" transform="rotate(308.25) translate(0 -148) rotate(-308.25)"><use href="#x"/></g>
<g id="A149" transform="rotate(312.75) translate(0 -146) rotate(-312.75)"><use href="#l"/></g>
<g id="A150" transform="rotate(317.25) translate(0 -143) rotate(-317.25)"><use href="#x"/></g>
<g id="A151" transform="rotate(321.75) translate(0 -148) rotate(-321.75)"><use href="#p"/></g>
<g id="A152" transform="rotate(326.25) translate(0 -146) rotate(-326.25)"><use href="#x"/></g>
<g id="A153" transform="rotate(330.75) translate(0 -143) rotate(-330.75)"><use href="#l"/></g>
<g id="A154" transform="rotate(335.25) translate(0 -148) rotate(-335.25)"><use href="#x"/></g>
<g id="A155" transform="rotate(339.75) translate(0 -146) rotate(-339.75)"><use href="#p"/></g>
<g id="A156" transform="rotate(344.25) translate(0 -143) rotate(-344.25)"><use href="#x"/></g>
<g id="A157" transform="rotate(348.75) translate(0 -148) rotate(-348.75)"><use href="#l"/></g>
<g id="A158" transform="rotate(353.25) translate(0 -146) rotate(-353.25)"><use href="#x"/></g>
<g id="A159" transform="rotate(357.75) translate(0 -143) rotate(-357.75)"><use href="#p"/></g>
<g id="A0" transform="rotate(0) translate(0 -144) rotate(0)"><use href="#l"/></g>
<g id="A1" transform="rotate(4.5) translate(0 -147) rotate(-4.5)"><use href="#x"/></g>
<g id="A2" transform="rotate(9) translate(0 -146) rotate(-9)"><use href="#p"/></g>
<g id="A3" transform="rotate(13.5) translate(0 -144) rotate(-13.5)"><use href="#x"/></g>
<g id="A4" transform="rotate(18) translate(0 -147) rotate(-18)"><use href="#l"/></g>
<g id="A5" transform="rotate(22.5) translate(0 -146) rotate(-22.5)"><use href="#l"/></g>
<g id="A6" transform="rotate(27) translate(0 -144) rotate(-27)"><use href="#x"/></g>
<g id="A7" transform="rotate(31.5) translate(0 -147) rotate(-31.5)"><use href="#p"/></g>
<g id="A8" transform="rotate(36) translate(0 -146) rotate(-36)"><use href="#x"/></g>
<g id="A9" transform="rotate(40.5) translate(0 -144) rotate(-40.5)"><use href="#l"/></g>
<g id="A10" transform="rotate(45) translate(0 -147) rotate(-45)"><use href="#l"/></g>
<g id="A11" transform="rotate(49.5) translate(0 -146) rotate(-49.5)"><use href="#x"/></g>
<g id="A12" transform="rotate(54) translate(0 -144) rotate(-54)"><use href="#p"/></g>
<g id="A13" transform="rotate(58.5) translate(0 -147) rotate(-58.5)"><use href="#x"/></g>
<g id="A14" transform="rotate(63) translate(0 -146) rotate(-63)"><use href="#l"/></g>
<g id="A15" transform="rotate(67.5) translate(0 -144) rotate(-67.5)"><use href="#l"/></g>
<g id="A16" transform="rotate(72) translate(0 -147) rotate(-72)"><use href="#x"/></g>
<g id="A17" transform="rotate(76.5) translate(0 -146) rotate(-76.5)"><use href="#p"/></g>
<g id="A18" transform="rotate(81) translate(0 -144) rotate(-81)"><use href="#x"/></g>
<g id="A19" transform="rotate(85.5) translate(0 -147) rotate(-85.5)"><use href="#l"/></g>
<g id="A20" transform="rotate(90) translate(0 -146) rotate(-90)"><use href="#l"/></g>
<g id="A21" transform="rotate(94.5) translate(0 -144) rotate(-94.5)"><use href="#x"/></g>
<g id="A22" transform="rotate(99) translate(0 -147) rotate(-99)"><use href="#p"/></g>
<g id="A23" transform="rotate(103.5) translate(0 -146) rotate(-103.5)"><use href="#x"/></g>
<g id="A24" transform="rotate(108) translate(0 -144) rotate(-108)"><use href="#l"/></g>
<g id="A25" transform="rotate(112.5) translate(0 -147) rotate(-112.5)"><use href="#l"/></g>
<g id="A26" transform="rotate(117) translate(0 -146) rotate(-117)"><use href="#x"/></g>
<g id="A27" transform="rotate(121.5) translate(0 -144) rotate(-121.5)"><use href="#p"/></g>
<g id="A28" transform="rotate(126) translate(0 -147) rotate(-126)"><use href="#x"/></g>
<g id="A29" transform="rotate(130.5) translate(0 -146) rotate(-130.5)"><use href="#l"/></g>
<g id="A30" transform="rotate(135) translate(0 -144) rotate(-135)"><use href="#l"/></g>
<g id="A31" transform="rotate(139.5) translate(0 -147) rotate(-139.5)"><use href="#x"/></g>
<g id="A32" transform="rotate(144) translate(0 -146) rotate(-144)"><use href="#p"/></g>
<g id="A33" transform="rotate(148.5) translate(0 -144) rotate(-148.5)"><use href="#x"/></g>
<g id="A34" transform="rotate(153) translate(0 -147) rotate(-153)"><use href="#l"/></g>
<g id="A35" transform="rotate(157.5) translate(0 -146) rotate(-157.5)"><use href="#l"/></g>
<g id="A36" transform="rotate(162) translate(0 -144) rotate(-162)"><use href="#x"/></g>
<g id="A37" transform="rotate(166.5) translate(0 -147) rotate(-166.5)"><use href="#p"/></g>
<g id="A38" transform="rotate(171) translate(0 -146) rotate(-171)"><use href="#x"/></g>
<g id="A39" transform="rotate(175.5) translate(0 -144) rotate(-175.5)"><use href="#l"/></g>
<g id="A40" transform="rotate(180) translate(0 -147) rotate(-180)"><use href="#l"/></g>
<g id="A41" transform="rotate(184.5) translate(0 -146) rotate(-184.5)"><use href="#x"/></g>
<g id="A42" transform="rotate(189) translate(0 -144) rotate(-189)"><use href="#p"/></g>
<g id="A43" transform="rotate(193.5) translate(0 -147) rotate(-193.5)"><use href="#x"/></g>
<g id="A44" transform="rotate(198) translate(0 -146) rotate(-198)"><use href="#l"/></g>
<g id="A45" transform="rotate(202.5) translate(0 -144) rotate(-202.5)"><use href="#l"/></g>
<g id="A46" transform="rotate(207) translate(0 -147) rotate(-207)"><use href="#x"/></g>
<g id="A47" transform="rotate(211.5) translate(0 -146) rotate(-211.5)"><use href="#p"/></g>
<g id="A48" transform="rotate(216) translate(0 -144) rotate(-216)"><use href="#x"/></g>
<g id="A49" transform="rotate(220.5) translate(0 -147) rotate(-220.5)"><use href="#l"/></g>
<g id="A50" transform="rotate(225) translate(0 -146) rotate(-225)"><use href="#l"/></g>
<g id="A51" transform="rotate(229.5) translate(0 -144) rotate(-229.5)"><use href="#x"/></g>
<g id="A52" transform="rotate(234) translate(0 -147) rotate(-234)"><use href="#p"/></g>
<g id="A53" transform="rotate(238.5) translate(0 -146) rotate(-238.5)"><use href="#x"/></g>
<g id="A54" transform="rotate(243) translate(0 -144) rotate(-243)"><use href="#l"/></g>
<g id="A55" transform="rotate(247.5) translate(0 -147) rotate(-247.5)"><use href="#l"/></g>
<g id="A56" transform="rotate(252) translate(0 -146) rotate(-252)"><use href="#x"/></g>
<g id="A57" transform="rotate(256.5) translate(0 -144) rotate(-256.5)"><use href="#p"/></g>
<g id="A58" transform="rotate(261) translate(0 -147) rotate(-261)"><use href="#x"/></g>
<g id="A59" transform="rotate(265.5) translate(0 -146) rotate(-265.5)"><use href="#l"/></g>
<g id="A60" transform="rotate(270) translate(0 -144) rotate(-270)"><use href="#l"/></g>
<g id="A61" transform="rotate(274.5) translate(0 -147) rotate(-274.5)"><use href="#x"/></g>
<g id="A62" transform="rotate(279) translate(0 -146) rotate(-279)"><use href="#p"/></g>
<g id="A63" transform="rotate(283.5) translate(0 -144) rotate(-283.5)"><use href="#x"/></g>
<g id="A64" transform="rotate(288) translate(0 -147) rotate(-288)"><use href="#l"/></g>
<g id="A65" transform="rotate(292.5) translate(0 -146) rotate(-292.5)"><use href="#l"/></g>
<g id="A66" transform="rotate(297) translate(0 -144) rotate(-297)"><use href="#x"/></g>
<g id="A67" transform="rotate(301.5) translate(0 -147) rotate(-301.5)"><use href="#p"/></g>
<g id="A68" transform="rotate(306) translate(0 -146) rotate(-306)"><use href="#x"/></g>
<g id="A69" transform="rotate(310.5) translate(0 -144) rotate(-310.5)"><use href="#l"/></g>
<g id="A70" transform="rotate(315) translate(0 -147) rotate(-315)"><use href="#l"/></g>
<g id="A71" transform="rotate(319.5) translate(0 -146) rotate(-319.5)"><use href="#x"/></g>
<g id="A72" transform="rotate(324) translate(0 -144) rotate(-324)"><use href="#p"/></g>
<g id="A73" transform="rotate(328.5) translate(0 -147) rotate(-328.5)"><use href="#x"/></g>
<g id="A74" transform="rotate(333) translate(0 -146) rotate(-333)"><use href="#l"/></g>
<g id="A75" transform="rotate(337.5) translate(0 -144) rotate(-337.5)"><use href="#l"/></g>
<g id="A76" transform="rotate(342) translate(0 -147) rotate(-342)"><use href="#x"/></g>
<g id="A77" transform="rotate(346.5) translate(0 -146) rotate(-346.5)"><use href="#p"/></g>
<g id="A78" transform="rotate(351) translate(0 -144) rotate(-351)"><use href="#x"/></g>
<g id="A79" transform="rotate(355.5) translate(0 -147) rotate(-355.5)"><use href="#l"/></g>
</g>
<g id="ring2" transform="translate(404 77)">
<g id="B32" transform="rotate(5.625) translate(0 -62) rotate(-5.625)"><use href="#l"/></g>
<g id="B33" transform="rotate(28.125) translate(0 -62) rotate(-28.125)"><use href="#l"/></g>
<g id="B34" transform="rotate(50.625) translate(0 -62) rotate(-50.625)"><use href="#l"/></g>
<g id="B35" transform="rotate(73.125) translate(0 -62) rotate(-73.125)"><use href="#l"/></g>
<g id="B36" transform="rotate(95.625) translate(0 -62) rotate(-95.625)"><use href="#l"/></g>
<g id="B37" transform="rotate(118.125) translate(0 -62) rotate(-118.125)"><use href="#l"/></g>
<g id="B38" transform="rotate(140.625) translate(0 -62) rotate(-140.625)"><use href="#l"/></g>
<g id="B39" transform="rotate(163.125) translate(0 -62) rotate(-163.125)"><use href="#l"/></g>
<g id="B40" transform="rotate(185.625) translate(0 -62) rotate(-185.625)"><use href="#l"/></g>
<g id="B41" transform="rotate(208.125) translate(0 -62) rotate(-208.125)"><use href="#l"/></g>
<g id="B42" transform="rotate(230.625) translate(0 -62) rotate(-230.625)"><use href="#l"/></g>
<g id="B43" transform="rotate(253.125) translate(0 -62) rotate(-253.125)"><use href="#l"/></g>
<g id="B44" transform="rotate(275.625) translate(0 -62) rotate(-275.625)"><use href="#l"/></g>
<g id="B45" transform="rotate(298.125) translate(0 -62) rotate(-298.125)"><use href="#l"/></g>
<g id="B46" transform="rotate(320.625) translate(0 -62) rotate(-320.625)"><use href="#l"/></g>
<g id="B47" transform="rotate(343.125) translate(0 -62) rotate(-343.125)"><use href="#l"/></g>
<g id="B0" transform="rotate(0) translate(0 -61) rotate(0)"><use href="#l"/></g>
<g id="B1" transform="rotate(11.25) translate(0 -63) rotate(-11.25)"><use href="#p"/></g>
<g id="B2" transform="rotate(22.5) translate(0 -61) rotate(-22.5)"><use href="#l"/></g>
<g id="B3" transform="rotate(33.75) translate(0 -63) rotate(-33.75)"><use href="#x"/></g>
<g id="B4" transform="rotate(45) translate(0 -61) rotate(-45)"><use href="#l"/></g>
<g id="B5" transform="rotate(56.25) translate(0 -63) rotate(-56.25)"><use href="#p"/></g>
<g id="B6" transform="rotate(67.5) translate(0 -61) rotate(-67.5)"><use href="#l"/></g>
<g id="B7" transform="rotate(78.75) translate(0 -63) rotate(-78.75)"><use href="#x"/></g>
<g id="B8" transform="rotate(90) translate(0 -61) rotate(-90)"><use href="#l"/></g>
<g id="B9" transform="rotate(101.25) translate(0 -63) rotate(-101.25)"><use href="#p"/></g>
<g id="B10" transform="rotate(112.5) translate(0 -61) rotate(-112.5)"><use href="#l"/></g>
<g id="B11" transform="rotate(123.75) translate(0 -63) rotate(-123.75)"><use href="#x"/></g>
<g id="B12" transform="rotate(135) translate(0 -61) rotate(-135)"><use href="#l"/></g>
<g id="B13" transform="rotate(146.25) translate(0 -63) rotate(-146.25)"><use href="#p"/></g>
<g id="B14" transform="rotate(157.5) translate(0 -61) rotate(-157.5)"><use href="#l"/></g>
<g id="B15" transform="rotate(168.75) translate(0 -63) rotate(-168.75)"><use href="#x"/></g>
<g id="B16" transform="rotate(180) translate(0 -61) rotate(-180)"><use href="#l"/></g>
<g id="B17" transform="rotate(191.25) translate(0 -63) rotate(-191.25)"><use href="#p"/></g>
<g id="B18" transform="rotate(202.5) translate(0 -61) rotate(-202.5)"><use href="#l"/></g>
<g id="B19" transform="rotate(213.75) translate(0 -63) rotate(-213.75)"><use href="#x"/></g>
<g id="B20" transform="rotate(225) translate(0 -61) rotate(-225)"><use href="#l"/></g>
<g id="B21" transform="rotate(236.25) translate(0 -63) rotate(-236.25)"><use href="#p"/></g>
<g id="B22" transform="rotate(247.5) translate(0 -61) rotate(-247.5)"><use href="#l"/></g>
<g id="B23" transform="rotate(258.75) translate(0 -63) rotate(-258.75)"><use href="#x"/></g>
<g id="B24" transform="rotate(270) translate(0 -61) rotate(-270)"><use href="#l"/></g>
<g id="B25" transform="rotate(281.25) translate(0 -63) rotate(-281.25)"><use href="#p"/></g>
<g id="B26" transform="rotate(292.5) translate(0 -61) rotate(-292.5)"><use href="#l"/></g>
<g id="B27" transform="rotate(303.75) translate(0 -63) rotate(-303.75)"><use href="#x"/></g>
<g id="B28" transform="rotate(315) translate(0 -61) rotate(-315)"><use href="#l"/></g>
<g id="B29" transform="rotate(326.25) translate(0 -63) rotate(-326.25)"><use href="#p"/></g>
<g id="B30" transform="rotate(337.5) translate(0 -61) rotate(-337.5)"><use href="#l"/></g>
<g id="B31" transform="rotate(348.75) translate(0 -63) rotate(-348.75)"><use href="#x"/></g>
</g>
<g id="C1" transform="translate(522 15)"><use href="#m"/></g><g id="C2" transform="translate(498 20)"><use href="#p"/></g><g id="C3" transform="translate(540 19)"><use href="#p"/></g><g id="C4" transform="translate(490 33)"><use href="#l"/></g><g id="C5" transform="translate(553 32)"><use href="#x"/></g><g id="C6" transform="translate(487 50)"><use href="#m"/></g><g id="C7" transform="translate(557 50)"><use href="#x"/></g><g id="C8" transform="translate(492 68)"><use href="#p"/></g><g id="C9" transform="translate(552 68)"><use href="#m"/></g><g id="C10" transform="translate(505 80)"><use href="#p"/></g><g id="C11" transform="translate(522 85)"><use href="#l"/></g><g id="C12" transform="translate(539 80)"><use href="#p"/></g>
<g id="D1" transform="translate(613 15)"><use href="#m"/></g><g id="D2" transform="translate(597 20)"><use href="#p"/></g><g id="D3" transform="translate(630 19)"><use href="#p"/></g><g id="D4" transform="translate(582 33)"><use href="#p"/></g><g id="D5" transform="translate(643 33)"><use href="#x"/></g><g id="D6" transform="translate(577 50)"><use href="#m"/></g><g id="D7" transform="translate(648 50)"><use href="#x"/></g><g id="D8" transform="translate(582 68)"><use href="#p"/></g><g id="D9" transform="translate(643 68)"><use href="#m"/></g><g id="D10" transform="translate(597 80)"><use href="#p"/></g><g id="D11" transform="translate(613 85)"><use href="#l"/></g><g id="D12" transform="translate(630 80)"><use href="#p"/></g>
<g id="E1" transform="translate(49 336)"><use href="#m"/></g><g id="E2" transform="translate(68 338)"><use href="#m"/></g><g id="E3" transform="translate(32 344)"><use href="#m"/></g><g id="E4" transform="translate(82 351)"><use href="#s"/></g><g id="E5" transform="translate(22 359)"><use href="#w"/></g><g id="E6" transform="translate(87 369)"><use href="#l"/></g><g id="E7" transform="translate(22 378)"><use href="#m"/></g><g id="E8" transform="translate(82 387)"><use href="#p"/></g><g id="E9" transform="translate(32 394)"><use href="#p"/></g><g id="E10" transform="translate(49 402)"><use href="#m"/></g><g id="E11" transform="translate(68 399)"><use href="#m"/></g>
<g id="F1" transform="translate(130 336)"><use href="#x"/></g><g id="F2" transform="translate(150 336)"><use href="#m"/></g><g id="F3" transform="translate(114 348)"><use href="#m"/></g><g id="F4" transform="translate(166 348)"><use href="#p"/></g><g id="F5" transform="translate(107 367)"><use href="#m"/></g><g id="F6" transform="translate(172 367)"><use href="#m"/></g><g id="F7" transform="translate(113 386)"><use href="#m"/></g><g id="F8" transform="translate(166 386)"><use href="#l"/></g><g id="F9" transform="translate(130 397)"><use href="#x"/></g><g id="F10" transform="translate(149 397)"><use href="#p"/></g>
<g id="G1" transform="translate(221 336)"><use href="#p"/></g><g id="G2" transform="translate(201 344)"><use href="#m"/></g><g id="G3" transform="translate(243 345)"><use href="#x"/></g><g id="G4" transform="translate(192 364)"><use href="#s"/></g><g id="G5" transform="translate(249 364)"><use href="#m"/></g><g id="G6" transform="translate(200 385)"><use href="#m"/></g><g id="G7" transform="translate(220 393)"><use href="#x"/></g><g id="G8" transform="translate(240 385)"><use href="#m"/></g>
<g id="H1" transform="translate(278 344)"><use href="#l"/></g><g id="H2" transform="translate(298 336)"><use href="#l"/></g><g id="H3" transform="translate(318 344)"><use href="#p"/></g><g id="H4" transform="translate(270 365)"><use href="#l"/></g><g id="H5" transform="translate(327 364)"><use href="#m"/></g><g id="H6" transform="translate(277 385)"><use href="#m"/></g><g id="H7" transform="translate(318 385)"><use href="#l"/></g><g id="H8" transform="translate(298 393)"><use href="#m"/></g>
<g id="I1" transform="translate(368 336)"><use href="#x"/></g><g id="I2" transform="translate(391 341)"><use href="#m"/></g><g id="I3" transform="translate(350 350)"><use href="#m"/></g><g id="I4" transform="translate(400 362)"><use href="#p"/></g><g id="I5" transform="translate(350 373)"><use href="#l"/></g><g id="I6" transform="translate(368 388)"><use href="#p"/></g><g id="I7" transform="translate(390 383)"><use href="#m"/></g>
<g id="J1" transform="translate(433 336)"><use href="#m"/></g><g id="J2" transform="translate(458 336)"><use href="#p"/></g><g id="J3" transform="translate(420 357)"><use href="#m"/></g><g id="J4" transform="translate(471 357)"><use href="#s"/></g><g id="J5" transform="translate(435 379)"><use href="#l"/></g><g id="J6" transform="translate(458 379)"><use href="#l"/></g>
<g id="K1" transform="translate(503 336)"><use href="#l"/></g><g id="K2" transform="translate(528 337)"><use href="#m"/></g><g id="K3" transform="translate(491 357)"><use href="#l"/></g><g id="K4" transform="translate(540 357)"><use href="#l"/></g><g id="K5" transform="translate(503 379)"><use href="#l"/></g><g id="K6" transform="translate(529 378)"><use href="#p"/></g>
<g id="L1" transform="translate(573 336)"><use href="#m"/></g><g id="L2" transform="translate(597 336)"><use href="#p"/></g><g id="L3" transform="translate(560 357)"><use href="#m"/></g><g id="L4" transform="translate(610 357)"><use href="#m"/></g><g id="L5" transform="translate(573 379)"><use href="#m"/></g><g id="L6" transform="translate(598 379)"><use href="#m"/></g>
<g id="M1" transform="translate(643 336)"><use href="#p"/></g><g id="M2" transform="translate(667 336)"><use href="#p"/></g><g id="M3" transform="translate(630 357)"><use href="#l"/></g><g id="M4" transform="translate(680 357)"><use href="#l"/></g><g id="M5" transform="translate(643 378)"><use href="#m"/></g><g id="M6" transform="translate(667 378)"><use href="#x"/></g>
<g id="N1" transform="translate(33 422)"><use href="#p"/></g><g id="N2" transform="translate(59 423)"><use href="#m"/></g><g id="N3" transform="translate(22 444)"><use href="#m"/></g><g id="N4" transform="translate(71 444)"><use href="#p"/></g><g id="N5" transform="translate(34 466)"><use href="#m"/></g><g id="N6" transform="translate(59 466)"><use href="#p"/></g>
<g id="O1" transform="translate(117 423)"><use href="#x"/></g><g id="O2" transform="translate(92 431)"><use href="#l"/></g><g id="O3" transform="translate(133 444)"><use href="#m"/></g><g id="O4" transform="translate(92 457)"><use href="#m"/></g><g id="O5" transform="translate(117 466)"><use href="#m"/></g>
<g id="P1" transform="translate(178 422)"><use href="#m"/></g><g id="P2" transform="translate(153 431)"><use href="#m"/></g><g id="P3" transform="translate(194 444)"><use href="#l"/></g><g id="P4" transform="translate(153 457)"><use href="#m"/></g><g id="P5" transform="translate(178 466)"><use href="#l"/></g>
<g id="Q1" transform="translate(240 422)"><use href="#m"/></g><g id="Q2" transform="translate(214 431)"><use href="#m"/></g><g id="Q3" transform="translate(253 444)"><use href="#l"/></g><g id="Q4" transform="translate(216 457)"><use href="#m"/></g><g id="Q5" transform="translate(241 466)"><use href="#m"/></g>
<g id="S1" transform="translate(275 431)"><use href="#l"/></g><g id="S2" transform="translate(299 423)"><use href="#m"/></g><g id="S3" transform="translate(316 444)"><use href="#l"/></g><g id="S4" transform="translate(275 457)"><use href="#x"/></g><g id="S5" transform="translate(300 466)"><use href="#l"/></g>
<g id="T1" transform="translate(361 422)"><use href="#w"/></g><g id="T2" transform="translate(337 431)"><use href="#m"/></g><g id="T3" transform="translate(377 444)"><use href="#m"/></g><g id="T4" transform="translate(335 457)"><use href="#p"/></g><g id="T5" transform="translate(362 466)"><use href="#p"/></g>
<g id="U1" transform="translate(398 431)"><use href="#m"/></g><g id="U2" transform="translate(423 423)"><use href="#p"/></g><g id="U3" transform="translate(438 444)"><use href="#p"/></g><g id="U4" transform="translate(397 457)"><use href="#p"/></g><g id="U5" transform="translate(423 466)"><use href="#p"/></g>
<g id="V1" transform="translate(458 431)"><use href="#l"/></g><g id="V2" transform="translate(483 423)"><use href="#m"/></g><g id="V3" transform="translate(500 444)"><use href="#s"/></g><g id="V4" transform="translate(458 457)"><use href="#x"/></g><g id="V5" transform="translate(483 466)"><use href="#l"/></g>
<g id="W1" transform="translate(540 422)"><use href="#l"/></g><g id="W2" transform="translate(520 443)"><use href="#x"/></g><g id="W3" transform="translate(560 443)"><use href="#m"/></g><g id="W4" transform="translate(540 463)"><use href="#l"/></g>
<g id="X1" transform="translate(600 423)"><use href="#m"/></g><g id="X2" transform="translate(580 443)"><use href="#m"/></g><g id="X3" transform="translate(621 443)"><use href="#p"/></g><g id="X4" transform="translate(600 463)"><use href="#p"/></g>
<g id="Y1" transform="translate(661 422)"><use href="#w"/></g><g id="Y2" transform="translate(641 443)"><use href="#m"/></g><g id="Y3" transform="translate(682 443)"><use href="#m"/></g><g id="Y4" transform="translate(661 463)"><use href="#p"/></g>
<g id="r3a1" transform="translate(42 486)"><use href="#l"/></g><g id="r3a2" transform="translate(22 506)"><use href="#m"/></g><g id="r3a3" transform="translate(62 506)"><use href="#l"/></g><g id="r3a4" transform="translate(42 527)"><use href="#m"/></g>
<g id="r3b1" transform="translate(103 486)"><use href="#m"/></g><g id="r3b2" transform="translate(82 506)"><use href="#p"/></g><g id="r3b3" transform="translate(123 506)"><use href="#p"/></g><g id="r3b4" transform="translate(103 527)"><use href="#m"/></g>
<g id="r3c1" transform="translate(163 486)"><use href="#l"/></g><g id="r3c2" transform="translate(143 506)"><use href="#m"/></g><g id="r3c3" transform="translate(183 506)"><use href="#p"/></g><g id="r3c4" transform="translate(163 527)"><use href="#m"/></g>
<g id="r3d1" transform="translate(224 486)"><use href="#l"/></g><g id="r3d2" transform="translate(204 506)"><use href="#m"/></g><g id="r3d3" transform="translate(245 506)"><use href="#m"/></g><g id="r3d4" transform="translate(224 527)"><use href="#x"/></g>
<g id="r3e1" transform="translate(285 486)"><use href="#s"/></g><g id="r3e2" transform="translate(265 506)"><use href="#p"/></g><g id="r3e3" transform="translate(305 506)"><use href="#p"/></g><g id="r3e4" transform="translate(285 527)"><use href="#l"/></g>
<g id="r3f1" transform="translate(345 486)"><use href="#m"/></g><g id="r3f2" transform="translate(326 506)"><use href="#s"/></g><g id="r3f3" transform="translate(365 506)"><use href="#p"/></g><g id="r3f4" transform="translate(345 526)"><use href="#p"/></g>
<g id="r3g1" transform="translate(406 486)"><use href="#l"/></g><g id="r3g2" transform="translate(387 506)"><use href="#p"/></g><g id="r3g3" transform="translate(426 506)"><use href="#p"/></g><g id="r3g4" transform="translate(406 526)"><use href="#l"/></g>
<g id="r3h1" transform="translate(467 486)"><use href="#p"/></g><g id="r3h2" transform="translate(447 506)"><use href="#p"/></g><g id="r3h3" transform="translate(487 506)"><use href="#l"/></g><g id="r3h4" transform="translate(467 526)"><use href="#l"/></g>
<g id="r3i1" transform="translate(528 486)"><use href="#l"/></g><g id="r3i2" transform="translate(507 506)"><use href="#x"/></g><g id="r3i3" transform="translate(548 506)"><use href="#w"/></g><g id="r3i4" transform="translate(528 526)"><use href="#s"/></g>
<g id="r3j1" transform="translate(567 486)"><use href="#p"/></g><g id="r3j2" transform="translate(599 503)"><use href="#p"/></g><g id="r3j3" transform="translate(567 522)"><use href="#l"/></g>
<g id="r3k1" transform="translate(619 486)"><use href="#p"/></g><g id="r3k2" transform="translate(649 503)"><use href="#m"/></g><g id="r3k3" transform="translate(619 522)"><use href="#l"/></g>
<g id="r4a1" transform="translate(22 547)"><use href="#m"/></g><g id="r4a2" transform="translate(52 564)"><use href="#m"/></g><g id="r4a3" transform="translate(22 582)"><use href="#m"/></g>
<g id="r4b1" transform="translate(83 547)"><use href="#p"/></g><g id="r4b2" transform="translate(112 564)"><use href="#l"/></g><g id="r4b3" transform="translate(83 582)"><use href="#p"/></g>
<g id="r4c1" transform="translate(134 547)"><use href="#s"/></g><g id="r4c2" transform="translate(163 564)"><use href="#m"/></g><g id="r4c3" transform="translate(134 582)"><use href="#s"/></g>
<g id="r4d1" transform="translate(184 547)"><use href="#s"/></g><g id="r4d2" transform="translate(214 564)"><use href="#s"/></g><g id="r4d3" transform="translate(184 582)"><use href="#m"/></g>
<g id="r4e1" transform="translate(234 547)"><use href="#p"/></g><g id="r4e2" transform="translate(265 564)"><use href="#p"/></g><g id="r4e3" transform="translate(234 582)"><use href="#s"/></g>
<g id="r4f1" transform="translate(285 547)"><use href="#p"/></g><g id="r4f2" transform="translate(315 564)"><use href="#l"/></g><g id="r4f3" transform="translate(285 582)"><use href="#p"/></g>
<g id="r4g1" transform="translate(335 547)"><use href="#p"/></g><g id="r4g2" transform="translate(365 564)"><use href="#p"/></g><g id="r4g3" transform="translate(335 582)"><use href="#s"/></g>
<g id="r4h1" transform="translate(386 547)"><use href="#l"/></g><g id="r4h2" transform="translate(416 564)"><use href="#x"/></g><g id="r4h3" transform="translate(386 582)"><use href="#x"/></g>
<g id="r4i1" transform="translate(436 547)"><use href="#l"/></g><g id="r4i2" transform="translate(466 564)"><use href="#m"/></g><g id="r4i3" transform="translate(436 582)"><use href="#l"/></g>
<g id="r4j1" transform="translate(487 547)"><use href="#x"/></g><g id="r4j2" transform="translate(517 564)"><use href="#l"/></g><g id="r4j3" transform="translate(487 582)"><use href="#l"/></g>
<g id="r4k1" transform="translate(537 547)"><use href="#m"/></g><g id="r4k2" transform="translate(567 564)"><use href="#m"/></g><g id="r4k3" transform="translate(537 582)"><use href="#p"/></g>
<g id="r4l1" transform="translate(589 547)"><use href="#m"/></g><g id="r4l2" transform="translate(619 564)"><use href="#m"/></g><g id="r4l3" transform="translate(589 582)"><use href="#p"/></g>
<g id="r4m1" transform="translate(639 546)"><use href="#x"/></g><g id="r4m2" transform="translate(669 564)"><use href="#l"/></g><g id="r4m3" transform="translate(639 582)"><use href="#x"/></g>
<g id="r5a1" transform="translate(22 602)"><use href="#s"/></g><g id="r5a2" transform="translate(52 619)"><use href="#p"/></g><g id="r5a3" transform="translate(22 637)"><use href="#m"/></g>
<g id="r5b1" transform="translate(73 602)"><use href="#m"/></g><g id="r5b2" transform="translate(102 619)"><use href="#p"/></g><g id="r5b3" transform="translate(73 637)"><use href="#m"/></g>
<g id="r5c1" transform="translate(122 602)"><use href="#m"/></g><g id="r5c2" transform="translate(152 619)"><use href="#p"/></g><g id="r5c3" transform="translate(122 637)"><use href="#l"/></g>
<g id="r5d1" transform="translate(174 602)"><use href="#l"/></g><g id="r5d2" transform="translate(203 619)"><use href="#m"/></g><g id="r5d3" transform="translate(174 637)"><use href="#m"/></g>
<g id="r5e1" transform="translate(224 602)"><use href="#l"/></g><g id="r5e2" transform="translate(254 619)"><use href="#l"/></g><g id="r5e3" transform="translate(224 637)"><use href="#l"/></g>
<g id="r5f1" transform="translate(274 602)"><use href="#l"/></g><g id="r5f2" transform="translate(305 619)"><use href="#m"/></g><g id="r5f3" transform="translate(274 637)"><use href="#s"/></g>
<g id="r5g1" transform="translate(325 602)"><use href="#p"/></g><g id="r5g2" transform="translate(355 619)"><use href="#p"/></g><g id="r5g3" transform="translate(325 637)"><use href="#p"/></g>
<g id="r5h1" transform="translate(376 602)"><use href="#s"/></g><g id="r5h2" transform="translate(406 619)"><use href="#m"/></g><g id="r5h3" transform="translate(376 637)"><use href="#s"/></g>
<g id="r5i1" transform="translate(427 602)"><use href="#l"/></g><g id="r5i2" transform="translate(456 619)"><use href="#p"/></g><g id="r5i3" transform="translate(427 637)"><use href="#m"/></g>
<g id="q1a" transform="translate(478 602)"><use href="#m"/></g><g id="q1b" transform="translate(518 602)"><use href="#l"/></g><g id="q2a" transform="translate(537 602)"><use href="#l"/></g><g id="q2b" transform="translate(578 602)"><use href="#m"/></g><g id="q3a" transform="translate(599 602)"><use href="#p"/></g><g id="q3b" transform="translate(639 602)"><use href="#p"/></g><g id="q4a" transform="translate(659 602)"><use href="#s"/></g><g id="q4b" transform="translate(697 602)"><use href="#m"/></g>
<g id="p1_1a" transform="translate(22 657)"><use href="#m"/></g><g id="p1_1b" transform="translate(62 657)"><use href="#p"/></g><g id="p1_2a" transform="translate(83 657)"><use href="#p"/></g><g id="p1_2b" transform="translate(123 657)"><use href="#p"/></g><g id="p1_3a" transform="translate(143 657)"><use href="#p"/></g><g id="p1_3b" transform="translate(183 657)"><use href="#p"/></g><g id="p1_4a" transform="translate(204 657)"><use href="#m"/></g><g id="p1_4b" transform="translate(244 657)"><use href="#s"/></g><g id="p1_5a" transform="translate(264 657)"><use href="#l"/></g><g id="p1_5b" transform="translate(306 657)"><use href="#x"/></g><g id="p1_6a" transform="translate(326 657)"><use href="#s"/></g><g id="p1_6b" transform="translate(365 657)"><use href="#w"/></g><g id="p1_7a" transform="translate(386 657)"><use href="#m"/></g><g id="p1_7b" transform="translate(427 657)"><use href="#m"/></g><g id="p1_8a" transform="translate(447 657)"><use href="#x"/></g><g id="p1_8b" transform="translate(488 657)"><use href="#l"/></g><g id="p1_9a" transform="translate(508 657)"><use href="#m"/></g><g id="p1_9b" transform="translate(549 657)"><use href="#m"/></g><g id="p1_10a" transform="translate(568 657)"><use href="#m"/></g><g id="p1_10b" transform="translate(609 657)"><use href="#m"/></g><g id="p1_11a" transform="translate(629 657)"><use href="#m"/></g><g id="p1_11b" transform="translate(669 657)"><use href="#m"/></g>
<g id="p2_1a" transform="translate(22 678)"><use href="#m"/></g><g id="p2_1b" transform="translate(62 678)"><use href="#p"/></g><g id="p2_2a" transform="translate(83 678)"><use href="#p"/></g><g id="p2_2b" transform="translate(123 678)"><use href="#p"/></g><g id="p2_3a" transform="translate(143 678)"><use href="#p"/></g><g id="p2_3b" transform="translate(183 678)"><use href="#p"/></g><g id="p2_4a" transform="translate(204 678)"><use href="#x"/></g><g id="p2_4b" transform="translate(244 678)"><use href="#l"/></g><g id="p2_5a" transform="translate(264 678)"><use href="#l"/></g><g id="p2_5b" transform="translate(306 678)"><use href="#m"/></g><g id="p2_6a" transform="translate(326 678)"><use href="#m"/></g><g id="p2_6b" transform="translate(365 678)"><use href="#s"/></g><g id="p2_7a" transform="translate(386 678)"><use href="#m"/></g><g id="p2_7b" transform="translate(427 678)"><use href="#p"/></g><g id="p2_8a" transform="translate(447 678)"><use href="#m"/></g><g id="p2_8b" transform="translate(488 678)"><use href="#m"/></g><g id="p2_9a" transform="translate(508 678)"><use href="#l"/></g><g id="p2_9b" transform="translate(549 678)"><use href="#l"/></g><g id="p2_10a" transform="translate(568 678)"><use href="#m"/></g><g id="p2_10b" transform="translate(609 678)"><use href="#l"/></g><g id="p2_11a" transform="translate(629 678)"><use href="#l"/></g><g id="p2_11b" transform="translate(669 678)"><use href="#m"/></g>
<g id="p3_1a" transform="translate(22 698)"><use href="#l"/></g><g id="p3_1b" transform="translate(62 698)"><use href="#l"/></g><g id="p3_2a" transform="translate(83 698)"><use href="#l"/></g><g id="p3_2b" transform="translate(123 698)"><use href="#m"/></g><g id="p3_3a" transform="translate(143 698)"><use href="#p"/></g><g id="p3_3b" transform="translate(183 698)"><use href="#s"/></g><g id="p3_4a" transform="translate(204 698)"><use href="#m"/></g><g id="p3_4b" transform="translate(244 698)"><use href="#p"/></g><g id="p3_5a" transform="translate(264 698)"><use href="#l"/></g><g id="p3_5b" transform="translate(306 698)"><use href="#w"/></g><g id="p3_6a" transform="translate(326 698)"><use href="#m"/></g><g id="p3_6b" transform="translate(365 698)"><use href="#p"/></g><g id="p3_7a" transform="translate(386 698)"><use href="#l"/></g><g id="p3_7b" transform="translate(427 698)"><use href="#m"/></g><g id="p3_8a" transform="translate(447 698)"><use href="#p"/></g><g id="p3_8b" transform="translate(488 698)"><use href="#l"/></g><g id="p3_9a" transform="translate(508 698)"><use href="#s"/></g><g id="p3_9b" transform="translate(549 698)"><use href="#s"/></g><g id="p3_10a" transform="translate(568 698)"><use href="#l"/></g><g id="p3_10b" transform="translate(609 698)"><use href="#p"/></g><g id="p3_11a" transform="translate(629 698)"><use href="#p"/></g><g id="p3_11b" transform="translate(669 698)"><use href="#l"/></g>
<g id="p4_1a" transform="translate(22 718)"><use href="#l"/></g><g id="p4_1b" transform="translate(62 718)"><use href="#w"/></g><g id="p4_2a" transform="translate(83 718)"><use href="#m"/></g><g id="p4_2b" transform="translate(123 718)"><use href="#m"/></g><g id="p4_3a" transform="translate(143 718)"><use href="#l"/></g><g id="p4_3b" transform="translate(183 718)"><use href="#p"/></g><g id="p4_4a" transform="translate(204 718)"><use href="#l"/></g><g id="p4_4b" transform="translate(244 718)"><use href="#l"/></g><g id="p4_5a" transform="translate(264 718)"><use href="#m"/></g><g id="p4_5b" transform="translate(306 718)"><use href="#m"/></g><g id="p4_6a" transform="translate(326 718)"><use href="#p"/></g><g id="p4_6b" transform="translate(365 718)"><use href="#m"/></g><g id="p4_7a" transform="translate(386 718)"><use href="#m"/></g><g id="p4_7b" transform="translate(427 718)"><use href="#m"/></g><g id="p4_8a" transform="translate(447 718)"><use href="#x"/></g><g id="p4_8b" transform="translate(488 718)"><use href="#m"/></g><g id="p4_9a" transform="translate(508 718)"><use href="#m"/></g><g id="p4_9b" transform="translate(549 718)"><use href="#l"/></g><g id="p4_10a" transform="translate(568 718)"><use href="#p"/></g><g id="p4_10b" transform="translate(609 718)"><use href="#x"/></g><g id="p4_11a" transform="translate(629 718)"><use href="#m"/></g><g id="p4_11b" transform="translate(669 718)"><use href="#m"/></g>
<g id="p5_1a" transform="translate(22 738)"><use href="#p"/></g><g id="p5_1b" transform="translate(62 738)"><use href="#s"/></g><g id="p5_2a" transform="translate(83 738)"><use href="#l"/></g><g id="p5_2b" transform="translate(123 738)"><use href="#p"/></g><g id="p5_3a" transform="translate(143 738)"><use href="#m"/></g><g id="p5_3b" transform="translate(183 738)"><use href="#m"/></g><g id="p5_4a" transform="translate(204 738)"><use href="#l"/></g><g id="p5_4b" transform="translate(244 738)"><use href="#l"/></g><g id="p5_5a" transform="translate(264 738)"><use href="#m"/></g><g id="p5_5b" transform="translate(306 738)"><use href="#p"/></g><g id="p5_6a" transform="translate(326 738)"><use href="#m"/></g><g id="p5_6b" transform="translate(365 738)"><use href="#l"/></g><g id="p5_7a" transform="translate(386 738)"><use href="#p"/></g><g id="p5_7b" transform="translate(427 738)"><use href="#m"/></g><g id="p5_8a" transform="translate(447 738)"><use href="#x"/></g><g id="p5_8b" transform="translate(488 738)"><use href="#p"/></g>
<g id="z1" transform="translate(507 738)"><use href="#s"/></g><g id="z2" transform="translate(528 738)"><use href="#m"/></g><g id="z3" transform="translate(548 738)"><use href="#m"/></g><g id="z4" transform="translate(569 738)"><use href="#m"/></g><g id="z5" transform="translate(588 738)"><use href="#l"/></g><g id="z6" transform="translate(609 738)"><use href="#m"/></g><g id="z7" transform="translate(629 738)"><use href="#m"/></g><g id="z8" transform="translate(649 738)"><use href="#s"/></g>
<g id="u0_0" transform="translate(21.5 758)"><use href="#s"/></g><g id="u0_1" transform="translate(41.7 758)"><use href="#s"/></g><g id="u0_2" transform="translate(61.9 758)"><use href="#l"/></g><g id="u0_3" transform="translate(82.1 758)"><use href="#m"/></g><g id="u0_4" transform="translate(102.3 758)"><use href="#l"/></g><g id="u0_5" transform="translate(122.5 758)"><use href="#l"/></g><g id="u0_6" transform="translate(142.7 758)"><use href="#p"/></g><g id="u0_7" transform="translate(162.9 758)"><use href="#m"/></g><g id="u0_8" transform="translate(183.1 758)"><use href="#l"/></g><g id="u0_9" transform="translate(203.3 758)"><use href="#m"/></g><g id="u0_10" transform="translate(223.5 758)"><use href="#s"/></g><g id="u0_11" transform="translate(243.7 758)"><use href="#s"/></g><g id="u0_12" transform="translate(263.9 758)"><use href="#l"/></g><g id="u0_13" transform="translate(284.1 758)"><use href="#p"/></g><g id="u0_14" transform="translate(304.3 758)"><use href="#p"/></g><g id="u0_15" transform="translate(324.5 758)"><use href="#p"/></g><g id="u0_16" transform="translate(344.7 758)"><use href="#l"/></g><g id="u0_17" transform="translate(364.9 758)"><use href="#p"/></g><g id="u0_18" transform="translate(385.1 758)"><use href="#p"/></g><g id="u0_19" transform="translate(405.3 758)"><use href="#p"/></g><g id="u0_20" transform="translate(425.5 758)"><use href="#p"/></g><g id="u0_21" transform="translate(445.7 758)"><use href="#p"/></g><g id="u0_22" transform="translate(465.9 758)"><use href="#p"/></g><g id="u0_23" transform="translate(486.1 758)"><use href="#x"/></g><g id="u0_24" transform="translate(506.3 758)"><use href="#p"/></g><g id="u0_25" transform="translate(526.5 758)"><use href="#p"/></g><g id="u0_26" transform="translate(546.7 758)"><use href="#p"/></g><g id="u0_27" transform="translate(566.9 758)"><use href="#s"/></g><g id="u0_28" transform="translate(587.1 758)"><use href="#l"/></g><g id="u0_29" transform="translate(607.3 758)"><use href="#p"/></g><g id="u0_30" transform="translate(627.5 758)"><use href="#p"/></g><g id="u0_31" transform="translate(647.7 758)"><use href="#p"/></g>
<g id="u1_0" transform="translate(21.5 779)"><use href="#m"/></g><g id="u1_1" transform="translate(41.7 779)"><use href="#m"/></g><g id="u1_2" transform="translate(61.9 779)"><use href="#l"/></g><g id="u1_3" transform="translate(82.1 779)"><use href="#p"/></g><g id="u1_4" transform="translate(102.3 779)"><use href="#s"/></g><g id="u1_5" transform="translate(122.5 779)"><use href="#p"/></g><g id="u1_6" transform="translate(142.7 779)"><use href="#p"/></g><g id="u1_7" transform="translate(162.9 779)"><use href="#l"/></g><g id="u1_8" transform="translate(183.1 779)"><use href="#p"/></g><g id="u1_9" transform="translate(203.3 779)"><use href="#m"/></g><g id="u1_10" transform="translate(223.5 779)"><use href="#p"/></g><g id="u1_11" transform="translate(243.7 779)"><use href="#p"/></g><g id="u1_12" transform="translate(263.9 779)"><use href="#p"/></g><g id="u1_13" transform="translate(284.1 779)"><use href="#p"/></g><g id="u1_14" transform="translate(304.3 779)"><use href="#p"/></g><g id="u1_15" transform="translate(324.5 779)"><use href="#x"/></g><g id="u1_16" transform="translate(344.7 779)"><use href="#p"/></g><g id="u1_17" transform="translate(364.9 779)"><use href="#m"/></g><g id="u1_18" transform="translate(385.1 779)"><use href="#m"/></g><g id="u1_19" transform="translate(405.3 779)"><use href="#m"/></g><g id="u1_20" transform="translate(425.5 779)"><use href="#p"/></g><g id="u1_21" transform="translate(445.7 779)"><use href="#m"/></g><g id="u1_22" transform="translate(465.9 779)"><use href="#m"/></g><g id="u1_23" transform="translate(486.1 779)"><use href="#m"/></g><g id="u1_24" transform="translate(506.3 779)"><use href="#p"/></g><g id="u1_25" transform="translate(526.5 779)"><use href="#m"/></g><g id="u1_26" transform="translate(546.7 779)"><use href="#x"/></g><g id="u1_27" transform="translate(566.9 779)"><use href="#l"/></g><g id="u1_28" transform="translate(587.1 779)"><use href="#s"/></g><g id="u1_29" transform="translate(607.3 779)"><use href="#l"/></g><g id="u1_30" transform="translate(627.5 779)"><use href="#x"/></g><g id="u1_31" transform="translate(647.7 779)"><use href="#l"/></g>
<g id="u2_0" transform="translate(21.5 799)"><use href="#m"/></g><g id="u2_1" transform="translate(41.7 799)"><use href="#m"/></g><g id="u2_2" transform="translate(61.9 799)"><use href="#l"/></g><g id="u2_3" transform="translate(82.1 799)"><use href="#l"/></g><g id="u2_4" transform="translate(102.3 799)"><use href="#p"/></g><g id="u2_5" transform="translate(122.5 799)"><use href="#p"/></g><g id="u2_6" transform="translate(142.7 799)"><use href="#p"/></g><g id="u2_7" transform="translate(162.9 799)"><use href="#m"/></g><g id="u2_8" transform="translate(183.1 799)"><use href="#s"/></g><g id="u2_9" transform="translate(203.3 799)"><use href="#m"/></g><g id="u2_10" transform="translate(223.5 799)"><use href="#p"/></g><g id="u2_11" transform="translate(243.7 799)"><use href="#p"/></g><g id="u2_12" transform="translate(263.9 799)"><use href="#l"/></g><g id="u2_13" transform="translate(284.1 799)"><use href="#p"/></g><g id="u2_14" transform="translate(304.3 799)"><use href="#p"/></g><g id="u2_15" transform="translate(324.5 799)"><use href="#s"/></g><g id="u2_16" transform="translate(344.7 799)"><use href="#m"/></g><g id="u2_17" transform="translate(364.9 799)"><use href="#x"/></g><g id="u2_18" transform="translate(385.1 799)"><use href="#m"/></g><g id="u2_19" transform="translate(405.3 799)"><use href="#p"/></g><g id="u2_20" transform="translate(425.5 799)"><use href="#l"/></g><g id="u2_21" transform="translate(445.7 799)"><use href="#p"/></g><g id="u2_22" transform="translate(465.9 799)"><use href="#m"/></g><g id="u2_23" transform="translate(486.1 799)"><use href="#s"/></g><g id="u2_24" transform="translate(506.3 799)"><use href="#p"/></g><g id="u2_25" transform="translate(526.5 799)"><use href="#p"/></g><g id="u2_26" transform="translate(546.7 799)"><use href="#m"/></g><g id="u2_27" transform="translate(566.9 799)"><use href="#m"/></g><g id="u2_28" transform="translate(587.1 799)"><use href="#l"/></g><g id="u2_29" transform="translate(607.3 799)"><use href="#l"/></g><g id="u2_30" transform="translate(627.5 799)"><use href="#m"/></g><g id="u2_31" transform="translate(647.7 799)"><use href="#l"/></g>
<g id="u3_0" transform="translate(21.5 819)"><use href="#l"/></g><g id="u3_1" transform="translate(41.7 819)"><use href="#l"/></g><g id="u3_2" transform="translate(61.9 819)"><use href="#l"/></g><g id="u3_3" transform="translate(82.1 819)"><use href="#s"/></g><g id="u3_4" transform="translate(102.3 819)"><use href="#p"/></g><g id="u3_5" transform="translate(122.5 819)"><use href="#p"/></g><g id="u3_6" transform="translate(142.7 819)"><use href="#l"/></g><g id="u3_7" transform="translate(162.9 819)"><use href="#m"/></g><g id="u3_8" transform="translate(183.1 819)"><use href="#x"/></g><g id="u3_9" transform="translate(203.3 819)"><use href="#l"/></g><g id="u3_10" transform="translate(223.5 819)"><use href="#p"/></g><g id="u3_11" transform="translate(243.7 819)"><use href="#p"/></g><g id="u3_12" transform="translate(263.9 819)"><use href="#l"/></g><g id="u3_13" transform="translate(284.1 819)"><use href="#m"/></g><g id="u3_14" transform="translate(304.3 819)"><use href="#p"/></g><g id="u3_15" transform="translate(324.5 819)"><use href="#l"/></g><g id="u3_16" transform="translate(344.7 819)"><use href="#l"/></g><g id="u3_17" transform="translate(364.9 819)"><use href="#l"/></g><g id="u3_18" transform="translate(385.1 819)"><use href="#m"/></g><g id="u3_19" transform="translate(405.3 819)"><use href="#m"/></g><g id="u3_20" transform="translate(425.5 819)"><use href="#l"/></g><g id="u3_21" transform="translate(445.7 819)"><use href="#p"/></g><g id="u3_22" transform="translate(465.9 819)"><use href="#s"/></g><g id="u3_23" transform="translate(486.1 819)"><use href="#p"/></g><g id="u3_24" transform="translate(506.3 819)"><use href="#l"/></g><g id="u3_25" transform="translate(526.5 819)"><use href="#l"/></g><g id="u3_26" transform="translate(546.7 819)"><use href="#m"/></g><g id="u3_27" transform="translate(566.9 819)"><use href="#p"/></g><g id="u3_28" transform="translate(587.1 819)"><use href="#p"/></g><g id="u3_29" transform="translate(607.3 819)"><use href="#m"/></g><g id="u3_30" transform="translate(627.5 819)"><use href="#m"/></g><g id="u3_31" transform="translate(647.7 819)"><use href="#m"/></g>
<g id="u4_0" transform="translate(21.5 839)"><use href="#m"/></g><g id="u4_1" transform="translate(41.7 839)"><use href="#m"/></g><g id="u4_2" transform="translate(61.9 839)"><use href="#m"/></g><g id="u4_3" transform="translate(82.1 839)"><use href="#p"/></g><g id="u4_4" transform="translate(102.3 839)"><use href="#p"/></g><g id="u4_5" transform="translate(122.5 839)"><use href="#m"/></g><g id="u4_6" transform="translate(142.7 839)"><use href="#l"/></g><g id="u4_7" transform="translate(162.9 839)"><use href="#m"/></g><g id="u4_8" transform="translate(183.1 839)"><use href="#m"/></g><g id="u4_9" transform="translate(203.3 839)"><use href="#s"/></g><g id="u4_10" transform="translate(223.5 839)"><use href="#m"/></g><g id="u4_11" transform="translate(243.7 839)"><use href="#p"/></g><g id="u4_12" transform="translate(263.9 839)"><use href="#m"/></g><g id="u4_13" transform="translate(284.1 839)"><use href="#p"/></g><g id="u4_14" transform="translate(304.3 839)"><use href="#p"/></g><g id="u4_15" transform="translate(324.5 839)"><use href="#l"/></g><g id="u4_16" transform="translate(344.7 839)"><use href="#x"/></g><g id="u4_17" transform="translate(364.9 839)"><use href="#m"/></g><g id="u4_18" transform="translate(385.1 839)"><use href="#s"/></g><g id="u4_19" transform="translate(405.3 839)"><use href="#p"/></g><g id="u4_20" transform="translate(425.5 839)"><use href="#p"/></g><g id="u4_21" transform="translate(445.7 839)"><use href="#p"/></g><g id="u4_22" transform="translate(465.9 839)"><use href="#p"/></g><g id="u4_23" transform="translate(486.1 839)"><use href="#m"/></g><g id="u4_24" transform="translate(506.3 839)"><use href="#p"/></g><g id="u4_25" transform="translate(526.5 839)"><use href="#p"/></g><g id="u4_26" transform="translate(546.7 839)"><use href="#l"/></g><g id="u4_27" transform="translate(566.9 839)"><use href="#m"/></g><g id="u4_28" transform="translate(587.1 839)"><use href="#m"/></g><g id="u4_29" transform="translate(607.3 839)"><use href="#l"/></g><g id="u4_30" transform="translate(627.5 839)"><use href="#m"/></g><g id="u4_31" transform="translate(647.7 839)"><use href="#l"/></g>
<g id="u5_0" transform="translate(21.5 859)"><use href="#m"/></g><g id="u5_1" transform="translate(41.7 859)"><use href="#p"/></g><g id="u5_2" transform="translate(61.9 859)"><use href="#s"/></g><g id="u5_3" transform="translate(82.1 859)"><use href="#l"/></g><g id="u5_4" transform="translate(102.3 859)"><use href="#x"/></g><g id="u5_5" transform="translate(122.5 859)"><use href="#l"/></g><g id="u5_6" transform="translate(142.7 859)"><use href="#s"/></g><g id="u5_7" transform="translate(162.9 859)"><use href="#m"/></g><g id="u5_8" transform="translate(183.1 859)"><use href="#m"/></g><g id="u5_9" transform="translate(203.3 859)"><use href="#l"/></g><g id="u5_10" transform="translate(223.5 859)"><use href="#p"/></g><g id="u5_11" transform="translate(243.7 859)"><use href="#l"/></g><g id="u5_12" transform="translate(263.9 859)"><use href="#p"/></g><g id="u5_13" transform="translate(284.1 859)"><use href="#p"/></g><g id="u5_14" transform="translate(304.3 859)"><use href="#m"/></g><g id="u5_15" transform="translate(324.5 859)"><use href="#m"/></g><g id="u5_16" transform="translate(344.7 859)"><use href="#p"/></g><g id="u5_17" transform="translate(364.9 859)"><use href="#m"/></g><g id="u5_18" transform="translate(385.1 859)"><use href="#m"/></g><g id="u5_19" transform="translate(405.3 859)"><use href="#p"/></g><g id="u5_20" transform="translate(425.5 859)"><use href="#m"/></g><g id="u5_21" transform="translate(445.7 859)"><use href="#s"/></g><g id="u5_22" transform="translate(465.9 859)"><use href="#p"/></g><g id="u5_23" transform="translate(486.1 859)"><use href="#p"/></g><g id="u5_24" transform="translate(506.3 859)"><use href="#x"/></g><g id="u5_25" transform="translate(526.5 859)"><use href="#s"/></g><g id="u5_26" transform="translate(546.7 859)"><use href="#m"/></g><g id="u5_27" transform="translate(566.9 859)"><use href="#x"/></g><g id="u5_28" transform="translate(587.1 859)"><use href="#p"/></g><g id="u5_29" transform="translate(607.3 859)"><use href="#p"/></g><g id="u5_30" transform="translate(627.5 859)"><use href="#p"/></g><g id="u5_31" transform="translate(647.7 859)"><use href="#m"/></g>
<g id="u6_0" transform="translate(21.5 880)"><use href="#m"/></g><g id="u6_1" transform="translate(41.7 880)"><use href="#s"/></g><g id="u6_2" transform="translate(61.9 880)"><use href="#l"/></g><g id="u6_3" transform="translate(82.1 880)"><use href="#l"/></g><g id="u6_4" transform="translate(102.3 880)"><use href="#m"/></g><g id="u6_5" transform="translate(122.5 880)"><use href="#m"/></g><g id="u6_6" transform="translate(142.7 880)"><use href="#l"/></g><g id="u6_7" transform="translate(162.9 880)"><use href="#p"/></g><g id="u6_8" transform="translate(183.1 880)"><use href="#p"/></g><g id="u6_9" transform="translate(203.3 880)"><use href="#m"/></g><g id="u6_10" transform="translate(223.5 880)"><use href="#p"/></g><g id="u6_11" transform="translate(243.7 880)"><use href="#m"/></g><g id="u6_12" transform="translate(263.9 880)"><use href="#l"/></g><g id="u6_13" transform="translate(284.1 880)"><use href="#p"/></g><g id="u6_14" transform="translate(304.3 880)"><use href="#p"/></g><g id="u6_15" transform="translate(324.5 880)"><use href="#m"/></g><g id="u6_16" transform="translate(344.7 880)"><use href="#s"/></g><g id="u6_17" transform="translate(364.9 880)"><use href="#m"/></g><g id="u6_18" transform="translate(385.1 880)"><use href="#m"/></g><g id="u6_19" transform="translate(405.3 880)"><use href="#m"/></g><g id="u6_20" transform="translate(425.5 880)"><use href="#l"/></g><g id="u6_21" transform="translate(445.7 880)"><use href="#p"/></g><g id="u6_22" transform="translate(465.9 880)"><use href="#s"/></g><g id="u6_23" transform="translate(486.1 880)"><use href="#p"/></g><g id="u6_24" transform="translate(506.3 880)"><use href="#p"/></g><g id="u6_25" transform="translate(526.5 880)"><use href="#p"/></g><g id="u6_26" transform="translate(546.7 880)"><use href="#p"/></g><g id="u6_27" transform="translate(566.9 880)"><use href="#p"/></g><g id="u6_28" transform="translate(587.1 880)"><use href="#p"/></g><g id="u6_29" transform="translate(607.3 880)"><use href="#p"/></g><g id="u6_30" transform="translate(627.5 880)"><use href="#m"/></g><g id="u6_31" transform="translate(647.7 880)"><use href="#m"/></g>
<g id="u7_0" transform="translate(21.5 900)"><use href="#s"/></g><g id="u7_1" transform="translate(41.7 900)"><use href="#x"/></g><g id="u7_2" transform="translate(61.9 900)"><use href="#m"/></g><g id="u7_3" transform="translate(82.1 900)"><use href="#s"/></g><g id="u7_4" transform="translate(102.3 900)"><use href="#s"/></g><g id="u7_5" transform="translate(122.5 900)"><use href="#m"/></g><g id="u7_6" transform="translate(142.7 900)"><use href="#x"/></g><g id="u7_7" transform="translate(162.9 900)"><use href="#m"/></g><g id="u7_8" transform="translate(183.1 900)"><use href="#m"/></g><g id="u7_9" transform="translate(203.3 900)"><use href="#m"/></g><g id="u7_10" transform="translate(223.5 900)"><use href="#l"/></g><g id="u7_11" transform="translate(243.7 900)"><use href="#p"/></g><g id="u7_12" transform="translate(263.9 900)"><use href="#x"/></g><g id="u7_13" transform="translate(284.1 900)"><use href="#p"/></g><g id="u7_14" transform="translate(304.3 900)"><use href="#p"/></g><g id="u7_15" transform="translate(324.5 900)"><use href="#p"/></g><g id="u7_16" transform="translate(344.7 900)"><use href="#s"/></g><g id="u7_17" transform="translate(364.9 900)"><use href="#x"/></g><g id="u7_18" transform="translate(385.1 900)"><use href="#s"/></g><g id="u7_19" transform="translate(405.3 900)"><use href="#m"/></g><g id="u7_20" transform="translate(425.5 900)"><use href="#s"/></g><g id="u7_21" transform="translate(445.7 900)"><use href="#m"/></g><g id="u7_22" transform="translate(465.9 900)"><use href="#x"/></g><g id="u7_23" transform="translate(486.1 900)"><use href="#p"/></g><g id="u7_24" transform="translate(506.3 900)"><use href="#p"/></g><g id="u7_25" transform="translate(526.5 900)"><use href="#s"/></g><g id="u7_26" transform="translate(546.7 900)"><use href="#p"/></g><g id="u7_27" transform="translate(566.9 900)"><use href="#l"/></g><g id="u7_28" transform="translate(587.1 900)"><use href="#p"/></g><g id="u7_29" transform="translate(607.3 900)"><use href="#p"/></g><g id="u7_30" transform="translate(627.5 900)"><use href="#p"/></g><g id="u7_31" transform="translate(647.7 900)"><use href="#l"/></g>
<g id="u8_0" transform="translate(21.5 921)"><use href="#m"/></g><g id="u8_1" transform="translate(41.7 921)"><use href="#l"/></g><g id="u8_2" transform="translate(61.9 921)"><use href="#m"/></g><g id="u8_3" transform="translate(82.1 921)"><use href="#x"/></g><g id="u8_4" transform="translate(102.3 921)"><use href="#s"/></g><g id="u8_5" transform="translate(122.5 921)"><use href="#m"/></g><g id="u8_6" transform="translate(142.7 921)"><use href="#s"/></g><g id="u8_7" transform="translate(162.9 921)"><use href="#m"/></g><g id="u8_8" transform="translate(183.1 921)"><use href="#m"/></g><g id="u8_9" transform="translate(203.3 921)"><use href="#l"/></g><g id="u8_10" transform="translate(223.5 921)"><use href="#l"/></g><g id="u8_11" transform="translate(243.7 921)"><use href="#p"/></g><g id="u8_12" transform="translate(263.9 921)"><use href="#m"/></g><g id="u8_13" transform="translate(284.1 921)"><use href="#m"/></g><g id="u8_14" transform="translate(304.3 921)"><use href="#m"/></g><g id="u8_15" transform="translate(324.5 921)"><use href="#s"/></g><g id="u8_16" transform="translate(344.7 921)"><use href="#l"/></g><g id="u8_17" transform="translate(364.9 921)"><use href="#s"/></g><g id="u8_18" transform="translate(385.1 921)"><use href="#p"/></g><g id="u8_19" transform="translate(405.3 921)"><use href="#l"/></g><g id="u8_20" transform="translate(425.5 921)"><use href="#p"/></g><g id="u8_21" transform="translate(445.7 921)"><use href="#m"/></g><g id="u8_22" transform="translate(465.9 921)"><use href="#p"/></g><g id="u8_23" transform="translate(486.1 921)"><use href="#l"/></g><g id="u8_24" transform="translate(506.3 921)"><use href="#l"/></g><g id="u8_25" transform="translate(526.5 921)"><use href="#l"/></g><g id="u8_26" transform="translate(546.7 921)"><use href="#l"/></g><g id="u8_27" transform="translate(566.9 921)"><use href="#m"/></g><g id="u8_28" transform="translate(587.1 921)"><use href="#l"/></g><g id="u8_29" transform="translate(607.3 921)"><use href="#p"/></g><g id="u8_30" transform="translate(627.5 921)"><use href="#m"/></g><g id="u8_31" transform="translate(647.7 921)"><use href="#m"/></g>
<g id="u9_0" transform="translate(21.5 941)"><use href="#m"/></g><g id="u9_1" transform="translate(41.7 941)"><use href="#m"/></g><g id="u9_2" transform="translate(61.9 940)"><use href="#x"/></g><g id="u9_3" transform="translate(82.1 941)"><use href="#p"/></g><g id="u9_4" transform="translate(102.3 941)"><use href="#p"/></g><g id="u9_5" transform="translate(122.5 941)"><use href="#p"/></g><g id="u9_6" transform="translate(142.7 941)"><use href="#p"/></g><g id="u9_7" transform="translate(162.9 941)"><use href="#m"/></g><g id="u9_8" transform="translate(183.1 941)"><use href="#m"/></g><g id="u9_9" transform="translate(203.3 941)"><use href="#p"/></g><g id="u9_10" transform="translate(223.5 941)"><use href="#p"/></g><g id="u9_11" transform="translate(243.7 941)"><use href="#p"/></g><g id="u9_12" transform="translate(263.9 941)"><use href="#m"/></g><g id="u9_13" transform="translate(284.1 941)"><use href="#p"/></g><g id="u9_14" transform="translate(304.3 941)"><use href="#p"/></g><g id="u9_15" transform="translate(324.5 941)"><use href="#p"/></g><g id="u9_16" transform="translate(344.7 941)"><use href="#p"/></g><g id="u9_17" transform="translate(364.9 941)"><use href="#l"/></g><g id="u9_18" transform="translate(385.1 941)"><use href="#s"/></g><g id="u9_19" transform="translate(405.3 941)"><use href="#p"/></g><g id="u9_20" transform="translate(425.5 941)"><use href="#p"/></g><g id="u9_21" transform="translate(445.7 941)"><use href="#p"/></g><g id="u9_22" transform="translate(465.9 941)"><use href="#l"/></g><g id="u9_23" transform="translate(486.1 941)"><use href="#p"/></g><g id="u9_24" transform="translate(506.3 940)"><use href="#x"/></g><g id="u9_25" transform="translate(526.5 941)"><use href="#m"/></g><g id="u9_26" transform="translate(546.7 941)"><use href="#l"/></g>
</g>
</svg>
